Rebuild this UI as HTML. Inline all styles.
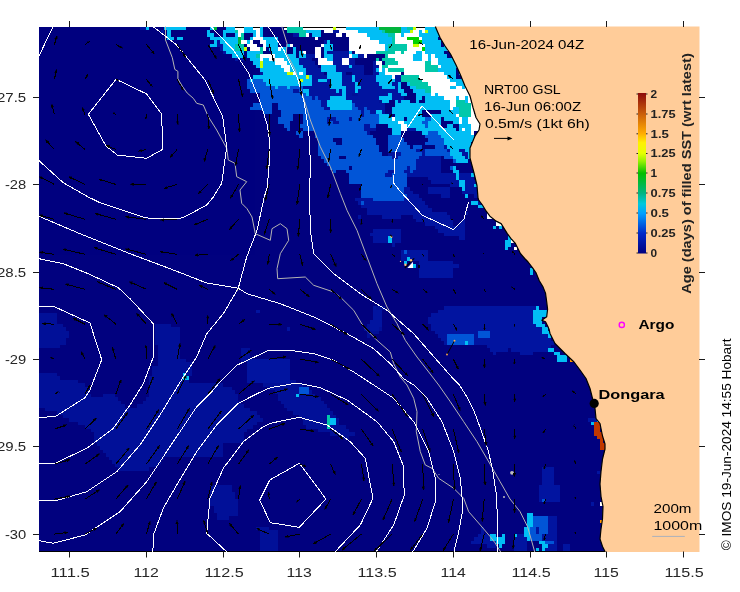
<!DOCTYPE html>
<html><head><meta charset="utf-8"><title>IMOS SST age map</title>
<style>html,body{margin:0;padding:0;background:#fff}body{width:740px;height:592px;overflow:hidden;font-family:"Liberation Sans",sans-serif}svg{display:block;will-change:transform;opacity:.999}text{font-family:"Liberation Sans",sans-serif}</style></head><body>
<svg width="740" height="592" viewBox="0 0 740 592">
<defs><clipPath id="pc"><rect x="39" y="27" width="660" height="524.5"/></clipPath>
<clipPath id="pc2"><rect x="38.5" y="26.5" width="661" height="525.5"/></clipPath>
<linearGradient id="cb" x1="0" y1="1" x2="0" y2="0">
<stop offset="0" stop-color="#00007f"/>
<stop offset="0.125" stop-color="#0028c8"/>
<stop offset="0.25" stop-color="#00a0ff"/>
<stop offset="0.31" stop-color="#00c8dc"/>
<stop offset="0.375" stop-color="#00b482"/>
<stop offset="0.5" stop-color="#00be00"/>
<stop offset="0.575" stop-color="#96f000"/>
<stop offset="0.625" stop-color="#e6ff00"/>
<stop offset="0.69" stop-color="#fff000"/>
<stop offset="0.75" stop-color="#ffaa00"/>
<stop offset="0.875" stop-color="#c85a0a"/>
<stop offset="1" stop-color="#8c0a0a"/>
</linearGradient></defs>
<rect width="740" height="592" fill="#fff"/>
<g clip-path="url(#pc)">
<rect x="39" y="27" width="660" height="524.5" fill="#00007f"/>
<g shape-rendering="crispEdges">
<rect x="139.82" y="26.24" width="6.19" height="3.55" fill="#0014a0"/>
<rect x="145.96" y="26.24" width="3.12" height="3.55" fill="#00bef5"/>
<rect x="164.38" y="26.24" width="21.54" height="3.55" fill="#00bef5"/>
<rect x="210.43" y="26.24" width="3.12" height="3.55" fill="#00bef5"/>
<rect x="213.50" y="26.24" width="3.12" height="3.55" fill="#00b43c"/>
<rect x="225.78" y="26.24" width="9.26" height="3.55" fill="#00bef5"/>
<rect x="234.99" y="26.24" width="9.26" height="3.55" fill="#ffffff"/>
<rect x="244.20" y="26.24" width="9.26" height="3.55" fill="#00bef5"/>
<rect x="253.41" y="26.24" width="6.19" height="3.55" fill="#ffffff"/>
<rect x="259.55" y="26.24" width="3.12" height="3.55" fill="#00bef5"/>
<rect x="284.10" y="26.24" width="3.12" height="3.55" fill="#ffffff"/>
<rect x="287.17" y="26.24" width="15.40" height="3.55" fill="#00c8aa"/>
<rect x="302.52" y="26.24" width="30.75" height="3.55" fill="#ffffff"/>
<rect x="333.22" y="26.24" width="3.12" height="3.55" fill="#c8ff00"/>
<rect x="336.29" y="26.24" width="9.26" height="3.55" fill="#ffffff"/>
<rect x="345.50" y="26.24" width="33.82" height="3.55" fill="#00bef5"/>
<rect x="379.27" y="26.24" width="21.54" height="3.55" fill="#00b43c"/>
<rect x="400.76" y="26.24" width="6.19" height="3.55" fill="#00bef5"/>
<rect x="406.90" y="26.24" width="6.19" height="3.55" fill="#00c8aa"/>
<rect x="413.04" y="26.24" width="3.12" height="3.55" fill="#c8ff00"/>
<rect x="416.11" y="26.24" width="9.26" height="3.55" fill="#ffffff"/>
<rect x="425.31" y="26.24" width="39.96" height="3.55" fill="#00bef5"/>
<rect x="161.31" y="29.74" width="3.12" height="3.55" fill="#0014a0"/>
<rect x="167.45" y="29.74" width="3.12" height="3.55" fill="#00bef5"/>
<rect x="207.36" y="29.74" width="3.12" height="3.55" fill="#00bef5"/>
<rect x="222.71" y="29.74" width="12.33" height="3.55" fill="#00bef5"/>
<rect x="234.99" y="29.74" width="3.12" height="3.55" fill="#00c8aa"/>
<rect x="238.06" y="29.74" width="6.19" height="3.55" fill="#ffffff"/>
<rect x="244.20" y="29.74" width="12.33" height="3.55" fill="#00bef5"/>
<rect x="256.48" y="29.74" width="3.12" height="3.55" fill="#ffffff"/>
<rect x="259.55" y="29.74" width="3.12" height="3.55" fill="#00bef5"/>
<rect x="287.17" y="29.74" width="18.47" height="3.55" fill="#00c8aa"/>
<rect x="305.59" y="29.74" width="15.40" height="3.55" fill="#00bef5"/>
<rect x="324.01" y="29.74" width="9.26" height="3.55" fill="#ffffff"/>
<rect x="333.22" y="29.74" width="6.19" height="3.55" fill="#0014a0"/>
<rect x="339.36" y="29.74" width="18.47" height="3.55" fill="#ffffff"/>
<rect x="357.78" y="29.74" width="24.61" height="3.55" fill="#00bef5"/>
<rect x="382.34" y="29.74" width="3.12" height="3.55" fill="#00c8aa"/>
<rect x="385.41" y="29.74" width="15.40" height="3.55" fill="#00b43c"/>
<rect x="400.76" y="29.74" width="9.26" height="3.55" fill="#00bef5"/>
<rect x="409.97" y="29.74" width="3.12" height="3.55" fill="#c8ff00"/>
<rect x="413.04" y="29.74" width="6.19" height="3.55" fill="#ffffff"/>
<rect x="419.17" y="29.74" width="3.12" height="3.55" fill="#00bef5"/>
<rect x="422.24" y="29.74" width="3.12" height="3.55" fill="#ffffff"/>
<rect x="425.31" y="29.74" width="3.12" height="3.55" fill="#c8ff00"/>
<rect x="428.38" y="29.74" width="36.89" height="3.55" fill="#00bef5"/>
<rect x="167.45" y="33.24" width="3.12" height="3.55" fill="#00bef5"/>
<rect x="207.36" y="33.24" width="6.19" height="3.55" fill="#00bef5"/>
<rect x="222.71" y="33.24" width="3.12" height="3.55" fill="#00bef5"/>
<rect x="234.99" y="33.24" width="3.12" height="3.55" fill="#00bef5"/>
<rect x="238.06" y="33.24" width="3.12" height="3.55" fill="#ffffff"/>
<rect x="241.13" y="33.24" width="3.12" height="3.55" fill="#00c8aa"/>
<rect x="253.41" y="33.24" width="3.12" height="3.55" fill="#00bef5"/>
<rect x="256.48" y="33.24" width="3.12" height="3.55" fill="#ffffff"/>
<rect x="259.55" y="33.24" width="3.12" height="3.55" fill="#00bef5"/>
<rect x="293.31" y="33.24" width="6.19" height="3.55" fill="#0014a0"/>
<rect x="299.45" y="33.24" width="6.19" height="3.55" fill="#00c8aa"/>
<rect x="305.59" y="33.24" width="3.12" height="3.55" fill="#ffffff"/>
<rect x="311.73" y="33.24" width="9.26" height="3.55" fill="#00bef5"/>
<rect x="336.29" y="33.24" width="6.19" height="3.55" fill="#ffffff"/>
<rect x="345.50" y="33.24" width="21.54" height="3.55" fill="#ffffff"/>
<rect x="366.99" y="33.24" width="21.54" height="3.55" fill="#00bef5"/>
<rect x="388.48" y="33.24" width="6.19" height="3.55" fill="#00c8aa"/>
<rect x="394.62" y="33.24" width="6.19" height="3.55" fill="#ffffff"/>
<rect x="400.76" y="33.24" width="3.12" height="3.55" fill="#00bef5"/>
<rect x="403.83" y="33.24" width="15.40" height="3.55" fill="#ffffff"/>
<rect x="419.17" y="33.24" width="46.10" height="3.55" fill="#00bef5"/>
<rect x="167.45" y="36.74" width="6.19" height="3.55" fill="#00bef5"/>
<rect x="176.66" y="36.74" width="6.19" height="3.55" fill="#00bef5"/>
<rect x="210.43" y="36.74" width="27.68" height="3.55" fill="#00bef5"/>
<rect x="238.06" y="36.74" width="3.12" height="3.55" fill="#00b43c"/>
<rect x="241.13" y="36.74" width="3.12" height="3.55" fill="#00c8aa"/>
<rect x="250.34" y="36.74" width="3.12" height="3.55" fill="#00bef5"/>
<rect x="253.41" y="36.74" width="9.26" height="3.55" fill="#ffffff"/>
<rect x="262.62" y="36.74" width="15.40" height="3.55" fill="#00bef5"/>
<rect x="314.80" y="36.74" width="3.12" height="3.55" fill="#ffffff"/>
<rect x="348.57" y="36.74" width="21.54" height="3.55" fill="#ffffff"/>
<rect x="370.06" y="36.74" width="21.54" height="3.55" fill="#00bef5"/>
<rect x="391.55" y="36.74" width="3.12" height="3.55" fill="#00c8aa"/>
<rect x="394.62" y="36.74" width="12.33" height="3.55" fill="#ffffff"/>
<rect x="406.90" y="36.74" width="12.33" height="3.55" fill="#00d200"/>
<rect x="419.17" y="36.74" width="3.12" height="3.55" fill="#ffffff"/>
<rect x="422.24" y="36.74" width="15.40" height="3.55" fill="#00bef5"/>
<rect x="440.66" y="36.74" width="24.61" height="3.55" fill="#00bef5"/>
<rect x="213.50" y="40.24" width="3.12" height="3.55" fill="#00bef5"/>
<rect x="216.57" y="40.24" width="3.12" height="3.55" fill="#0014a0"/>
<rect x="219.64" y="40.24" width="18.47" height="3.55" fill="#00bef5"/>
<rect x="238.06" y="40.24" width="3.12" height="3.55" fill="#00b43c"/>
<rect x="241.13" y="40.24" width="6.19" height="3.55" fill="#ffffff"/>
<rect x="247.27" y="40.24" width="3.12" height="3.55" fill="#00bef5"/>
<rect x="250.34" y="40.24" width="3.12" height="3.55" fill="#ffffff"/>
<rect x="259.55" y="40.24" width="6.19" height="3.55" fill="#ffffff"/>
<rect x="265.68" y="40.24" width="12.33" height="3.55" fill="#00bef5"/>
<rect x="324.01" y="40.24" width="3.12" height="3.55" fill="#0014a0"/>
<rect x="327.08" y="40.24" width="3.12" height="3.55" fill="#00bef5"/>
<rect x="348.57" y="40.24" width="30.75" height="3.55" fill="#ffffff"/>
<rect x="379.27" y="40.24" width="12.33" height="3.55" fill="#00bef5"/>
<rect x="391.55" y="40.24" width="3.12" height="3.55" fill="#00c8aa"/>
<rect x="394.62" y="40.24" width="18.47" height="3.55" fill="#ffffff"/>
<rect x="413.04" y="40.24" width="9.26" height="3.55" fill="#00d200"/>
<rect x="422.24" y="40.24" width="18.47" height="3.55" fill="#00bef5"/>
<rect x="443.73" y="40.24" width="21.54" height="3.55" fill="#00bef5"/>
<rect x="210.43" y="43.74" width="6.19" height="3.55" fill="#00bef5"/>
<rect x="216.57" y="43.74" width="6.19" height="3.55" fill="#0014a0"/>
<rect x="222.71" y="43.74" width="12.33" height="3.55" fill="#00bef5"/>
<rect x="234.99" y="43.74" width="9.26" height="3.55" fill="#00c8aa"/>
<rect x="247.27" y="43.74" width="9.26" height="3.55" fill="#ffffff"/>
<rect x="262.62" y="43.74" width="3.12" height="3.55" fill="#ffffff"/>
<rect x="265.68" y="43.74" width="12.33" height="3.55" fill="#00bef5"/>
<rect x="287.17" y="43.74" width="3.12" height="3.55" fill="#00bef5"/>
<rect x="290.24" y="43.74" width="3.12" height="3.55" fill="#ffffff"/>
<rect x="320.94" y="43.74" width="3.12" height="3.55" fill="#ffffff"/>
<rect x="324.01" y="43.74" width="9.26" height="3.55" fill="#00bef5"/>
<rect x="348.57" y="43.74" width="36.89" height="3.55" fill="#ffffff"/>
<rect x="385.41" y="43.74" width="3.12" height="3.55" fill="#00bef5"/>
<rect x="388.48" y="43.74" width="18.47" height="3.55" fill="#00c8aa"/>
<rect x="406.90" y="43.74" width="6.19" height="3.55" fill="#ffffff"/>
<rect x="413.04" y="43.74" width="6.19" height="3.55" fill="#c8ff00"/>
<rect x="419.17" y="43.74" width="6.19" height="3.55" fill="#ffffff"/>
<rect x="425.31" y="43.74" width="15.40" height="3.55" fill="#00bef5"/>
<rect x="443.73" y="43.74" width="21.54" height="3.55" fill="#00bef5"/>
<rect x="219.64" y="47.24" width="3.12" height="3.55" fill="#0014a0"/>
<rect x="222.71" y="47.24" width="12.33" height="3.55" fill="#00bef5"/>
<rect x="234.99" y="47.24" width="9.26" height="3.55" fill="#00c8aa"/>
<rect x="244.20" y="47.24" width="3.12" height="3.55" fill="#c8ff00"/>
<rect x="250.34" y="47.24" width="9.26" height="3.55" fill="#ffffff"/>
<rect x="259.55" y="47.24" width="3.12" height="3.55" fill="#00c8aa"/>
<rect x="262.62" y="47.24" width="3.12" height="3.55" fill="#ffffff"/>
<rect x="268.75" y="47.24" width="9.26" height="3.55" fill="#00bef5"/>
<rect x="277.96" y="47.24" width="3.12" height="3.55" fill="#ffffff"/>
<rect x="281.03" y="47.24" width="6.19" height="3.55" fill="#00bef5"/>
<rect x="293.31" y="47.24" width="3.12" height="3.55" fill="#00bef5"/>
<rect x="314.80" y="47.24" width="6.19" height="3.55" fill="#ffffff"/>
<rect x="324.01" y="47.24" width="9.26" height="3.55" fill="#00bef5"/>
<rect x="348.57" y="47.24" width="36.89" height="3.55" fill="#ffffff"/>
<rect x="385.41" y="47.24" width="3.12" height="3.55" fill="#00bef5"/>
<rect x="388.48" y="47.24" width="18.47" height="3.55" fill="#00c8aa"/>
<rect x="406.90" y="47.24" width="15.40" height="3.55" fill="#ffffff"/>
<rect x="422.24" y="47.24" width="3.12" height="3.55" fill="#00d200"/>
<rect x="425.31" y="47.24" width="21.54" height="3.55" fill="#00bef5"/>
<rect x="446.80" y="47.24" width="3.12" height="3.55" fill="#ffffff"/>
<rect x="449.87" y="47.24" width="15.40" height="3.55" fill="#00bef5"/>
<rect x="222.71" y="50.74" width="3.12" height="3.55" fill="#0014a0"/>
<rect x="225.78" y="50.74" width="18.47" height="3.55" fill="#00bef5"/>
<rect x="247.27" y="50.74" width="12.33" height="3.55" fill="#00bef5"/>
<rect x="259.55" y="50.74" width="3.12" height="3.55" fill="#00c8aa"/>
<rect x="271.82" y="50.74" width="15.40" height="3.55" fill="#00bef5"/>
<rect x="293.31" y="50.74" width="3.12" height="3.55" fill="#00bef5"/>
<rect x="299.45" y="50.74" width="3.12" height="3.55" fill="#00bef5"/>
<rect x="302.52" y="50.74" width="3.12" height="3.55" fill="#ffffff"/>
<rect x="314.80" y="50.74" width="6.19" height="3.55" fill="#ffffff"/>
<rect x="324.01" y="50.74" width="3.12" height="3.55" fill="#00bef5"/>
<rect x="327.08" y="50.74" width="21.54" height="3.55" fill="#0014a0"/>
<rect x="348.57" y="50.74" width="3.12" height="3.55" fill="#00bef5"/>
<rect x="354.71" y="50.74" width="21.54" height="3.55" fill="#ffffff"/>
<rect x="376.20" y="50.74" width="18.47" height="3.55" fill="#00c8aa"/>
<rect x="394.62" y="50.74" width="6.19" height="3.55" fill="#ffffff"/>
<rect x="400.76" y="50.74" width="3.12" height="3.55" fill="#00c8aa"/>
<rect x="403.83" y="50.74" width="12.33" height="3.55" fill="#ffffff"/>
<rect x="416.11" y="50.74" width="6.19" height="3.55" fill="#00bef5"/>
<rect x="422.24" y="50.74" width="3.12" height="3.55" fill="#ffffff"/>
<rect x="425.31" y="50.74" width="18.47" height="3.55" fill="#00bef5"/>
<rect x="449.87" y="50.74" width="15.40" height="3.55" fill="#00bef5"/>
<rect x="231.92" y="54.24" width="12.33" height="3.55" fill="#00bef5"/>
<rect x="247.27" y="54.24" width="9.26" height="3.55" fill="#00bef5"/>
<rect x="256.48" y="54.24" width="3.12" height="3.55" fill="#00c8aa"/>
<rect x="259.55" y="54.24" width="15.40" height="3.55" fill="#ffffff"/>
<rect x="274.89" y="54.24" width="21.54" height="3.55" fill="#00bef5"/>
<rect x="299.45" y="54.24" width="6.19" height="3.55" fill="#00bef5"/>
<rect x="305.59" y="54.24" width="9.26" height="3.55" fill="#0014a0"/>
<rect x="314.80" y="54.24" width="6.19" height="3.55" fill="#ffffff"/>
<rect x="324.01" y="54.24" width="9.26" height="3.55" fill="#00bef5"/>
<rect x="333.22" y="54.24" width="15.40" height="3.55" fill="#0014a0"/>
<rect x="348.57" y="54.24" width="3.12" height="3.55" fill="#ffffff"/>
<rect x="351.64" y="54.24" width="6.19" height="3.55" fill="#00bef5"/>
<rect x="357.78" y="54.24" width="6.19" height="3.55" fill="#0014a0"/>
<rect x="363.92" y="54.24" width="3.12" height="3.55" fill="#ffffff"/>
<rect x="385.41" y="54.24" width="3.12" height="3.55" fill="#00c8aa"/>
<rect x="388.48" y="54.24" width="24.61" height="3.55" fill="#ffffff"/>
<rect x="413.04" y="54.24" width="9.26" height="3.55" fill="#00bef5"/>
<rect x="422.24" y="54.24" width="6.19" height="3.55" fill="#ffffff"/>
<rect x="428.38" y="54.24" width="3.12" height="3.55" fill="#00bef5"/>
<rect x="431.45" y="54.24" width="3.12" height="3.55" fill="#ffffff"/>
<rect x="434.52" y="54.24" width="12.33" height="3.55" fill="#00bef5"/>
<rect x="452.94" y="54.24" width="12.33" height="3.55" fill="#00bef5"/>
<rect x="234.99" y="57.74" width="3.12" height="3.55" fill="#0014a0"/>
<rect x="241.13" y="57.74" width="3.12" height="3.55" fill="#0014a0"/>
<rect x="250.34" y="57.74" width="9.26" height="3.55" fill="#00bef5"/>
<rect x="259.55" y="57.74" width="3.12" height="3.55" fill="#ffffff"/>
<rect x="262.62" y="57.74" width="6.19" height="3.55" fill="#00bef5"/>
<rect x="268.75" y="57.74" width="15.40" height="3.55" fill="#ffffff"/>
<rect x="284.10" y="57.74" width="15.40" height="3.55" fill="#00bef5"/>
<rect x="299.45" y="57.74" width="12.33" height="3.55" fill="#0014a0"/>
<rect x="317.87" y="57.74" width="9.26" height="3.55" fill="#ffffff"/>
<rect x="327.08" y="57.74" width="6.19" height="3.55" fill="#00bef5"/>
<rect x="333.22" y="57.74" width="9.26" height="3.55" fill="#0014a0"/>
<rect x="342.43" y="57.74" width="6.19" height="3.55" fill="#ffffff"/>
<rect x="348.57" y="57.74" width="6.19" height="3.55" fill="#0014a0"/>
<rect x="376.20" y="57.74" width="3.12" height="3.55" fill="#00c8aa"/>
<rect x="382.34" y="57.74" width="12.33" height="3.55" fill="#00c8aa"/>
<rect x="394.62" y="57.74" width="18.47" height="3.55" fill="#ffffff"/>
<rect x="413.04" y="57.74" width="9.26" height="3.55" fill="#00bef5"/>
<rect x="422.24" y="57.74" width="6.19" height="3.55" fill="#ffffff"/>
<rect x="428.38" y="57.74" width="3.12" height="3.55" fill="#00bef5"/>
<rect x="431.45" y="57.74" width="6.19" height="3.55" fill="#ffffff"/>
<rect x="437.59" y="57.74" width="27.68" height="3.55" fill="#00bef5"/>
<rect x="253.41" y="61.24" width="6.19" height="3.55" fill="#00bef5"/>
<rect x="259.55" y="61.24" width="3.12" height="3.55" fill="#c8ff00"/>
<rect x="262.62" y="61.24" width="12.33" height="3.55" fill="#00bef5"/>
<rect x="274.89" y="61.24" width="12.33" height="3.55" fill="#ffffff"/>
<rect x="287.17" y="61.24" width="12.33" height="3.55" fill="#00bef5"/>
<rect x="299.45" y="61.24" width="15.40" height="3.55" fill="#0014a0"/>
<rect x="317.87" y="61.24" width="15.40" height="3.55" fill="#ffffff"/>
<rect x="333.22" y="61.24" width="9.26" height="3.55" fill="#0014a0"/>
<rect x="342.43" y="61.24" width="6.19" height="3.55" fill="#ffffff"/>
<rect x="348.57" y="61.24" width="6.19" height="3.55" fill="#0014a0"/>
<rect x="373.13" y="61.24" width="3.12" height="3.55" fill="#0014a0"/>
<rect x="376.20" y="61.24" width="6.19" height="3.55" fill="#ffffff"/>
<rect x="385.41" y="61.24" width="12.33" height="3.55" fill="#00c8aa"/>
<rect x="397.69" y="61.24" width="27.68" height="3.55" fill="#ffffff"/>
<rect x="425.31" y="61.24" width="6.19" height="3.55" fill="#00c8aa"/>
<rect x="431.45" y="61.24" width="6.19" height="3.55" fill="#ffffff"/>
<rect x="437.59" y="61.24" width="27.68" height="3.55" fill="#00bef5"/>
<rect x="256.48" y="64.74" width="3.12" height="3.55" fill="#00bef5"/>
<rect x="259.55" y="64.74" width="3.12" height="3.55" fill="#c8ff00"/>
<rect x="262.62" y="64.74" width="18.47" height="3.55" fill="#00bef5"/>
<rect x="281.03" y="64.74" width="9.26" height="3.55" fill="#ffffff"/>
<rect x="290.24" y="64.74" width="12.33" height="3.55" fill="#00bef5"/>
<rect x="302.52" y="64.74" width="15.40" height="3.55" fill="#0014a0"/>
<rect x="320.94" y="64.74" width="15.40" height="3.55" fill="#00bef5"/>
<rect x="336.29" y="64.74" width="12.33" height="3.55" fill="#0014a0"/>
<rect x="348.57" y="64.74" width="3.12" height="3.55" fill="#00bef5"/>
<rect x="351.64" y="64.74" width="12.33" height="3.55" fill="#0014a0"/>
<rect x="373.13" y="64.74" width="6.19" height="3.55" fill="#0014a0"/>
<rect x="379.27" y="64.74" width="3.12" height="3.55" fill="#ffffff"/>
<rect x="382.34" y="64.74" width="6.19" height="3.55" fill="#00c8aa"/>
<rect x="388.48" y="64.74" width="36.89" height="3.55" fill="#ffffff"/>
<rect x="425.31" y="64.74" width="12.33" height="3.55" fill="#00c8aa"/>
<rect x="437.59" y="64.74" width="3.12" height="3.55" fill="#ffffff"/>
<rect x="440.66" y="64.74" width="24.61" height="3.55" fill="#00bef5"/>
<rect x="259.55" y="68.24" width="24.61" height="3.55" fill="#00bef5"/>
<rect x="284.10" y="68.24" width="6.19" height="3.55" fill="#ffffff"/>
<rect x="290.24" y="68.24" width="15.40" height="3.55" fill="#00bef5"/>
<rect x="305.59" y="68.24" width="15.40" height="3.55" fill="#0014a0"/>
<rect x="320.94" y="68.24" width="15.40" height="3.55" fill="#00bef5"/>
<rect x="336.29" y="68.24" width="27.68" height="3.55" fill="#0014a0"/>
<rect x="373.13" y="68.24" width="3.12" height="3.55" fill="#0014a0"/>
<rect x="376.20" y="68.24" width="3.12" height="3.55" fill="#00bef5"/>
<rect x="379.27" y="68.24" width="3.12" height="3.55" fill="#ffffff"/>
<rect x="382.34" y="68.24" width="3.12" height="3.55" fill="#00bef5"/>
<rect x="385.41" y="68.24" width="3.12" height="3.55" fill="#ffffff"/>
<rect x="388.48" y="68.24" width="15.40" height="3.55" fill="#00c8aa"/>
<rect x="403.83" y="68.24" width="21.54" height="3.55" fill="#ffffff"/>
<rect x="425.31" y="68.24" width="12.33" height="3.55" fill="#00c8aa"/>
<rect x="437.59" y="68.24" width="18.47" height="3.55" fill="#00bef5"/>
<rect x="459.08" y="68.24" width="6.19" height="3.55" fill="#00bef5"/>
<rect x="259.55" y="71.74" width="3.12" height="3.55" fill="#0014a0"/>
<rect x="262.62" y="71.74" width="24.61" height="3.55" fill="#00bef5"/>
<rect x="287.17" y="71.74" width="6.19" height="3.55" fill="#c8ff00"/>
<rect x="293.31" y="71.74" width="3.12" height="3.55" fill="#ffffff"/>
<rect x="296.38" y="71.74" width="3.12" height="3.55" fill="#00bef5"/>
<rect x="299.45" y="71.74" width="3.12" height="3.55" fill="#ffffff"/>
<rect x="302.52" y="71.74" width="3.12" height="3.55" fill="#00bef5"/>
<rect x="305.59" y="71.74" width="18.47" height="3.55" fill="#0014a0"/>
<rect x="327.08" y="71.74" width="15.40" height="3.55" fill="#00bef5"/>
<rect x="342.43" y="71.74" width="3.12" height="3.55" fill="#0014a0"/>
<rect x="351.64" y="71.74" width="12.33" height="3.55" fill="#0014a0"/>
<rect x="373.13" y="71.74" width="6.19" height="3.55" fill="#0014a0"/>
<rect x="379.27" y="71.74" width="6.19" height="3.55" fill="#00bef5"/>
<rect x="385.41" y="71.74" width="15.40" height="3.55" fill="#ffffff"/>
<rect x="403.83" y="71.74" width="39.96" height="3.55" fill="#ffffff"/>
<rect x="443.73" y="71.74" width="12.33" height="3.55" fill="#00bef5"/>
<rect x="459.08" y="71.74" width="6.19" height="3.55" fill="#00bef5"/>
<rect x="253.41" y="75.24" width="52.24" height="3.55" fill="#00bef5"/>
<rect x="305.59" y="75.24" width="3.12" height="3.55" fill="#c8ff00"/>
<rect x="308.66" y="75.24" width="3.12" height="3.55" fill="#00bef5"/>
<rect x="311.73" y="75.24" width="15.40" height="3.55" fill="#0014a0"/>
<rect x="327.08" y="75.24" width="15.40" height="3.55" fill="#00bef5"/>
<rect x="342.43" y="75.24" width="9.26" height="3.55" fill="#0014a0"/>
<rect x="351.64" y="75.24" width="3.12" height="3.55" fill="#00bef5"/>
<rect x="354.71" y="75.24" width="21.54" height="3.55" fill="#0014a0"/>
<rect x="376.20" y="75.24" width="15.40" height="3.55" fill="#00bef5"/>
<rect x="391.55" y="75.24" width="3.12" height="3.55" fill="#ffffff"/>
<rect x="394.62" y="75.24" width="6.19" height="3.55" fill="#0014a0"/>
<rect x="400.76" y="75.24" width="18.47" height="3.55" fill="#00c8aa"/>
<rect x="419.17" y="75.24" width="27.68" height="3.55" fill="#ffffff"/>
<rect x="446.80" y="75.24" width="9.26" height="3.55" fill="#00bef5"/>
<rect x="247.27" y="78.74" width="3.12" height="3.55" fill="#0055d7"/>
<rect x="250.34" y="78.74" width="3.12" height="3.55" fill="#00bef5"/>
<rect x="253.41" y="78.74" width="9.26" height="3.55" fill="#0055d7"/>
<rect x="262.62" y="78.74" width="36.89" height="3.55" fill="#00bef5"/>
<rect x="299.45" y="78.74" width="3.12" height="3.55" fill="#c8ff00"/>
<rect x="302.52" y="78.74" width="9.26" height="3.55" fill="#00bef5"/>
<rect x="311.73" y="78.74" width="6.19" height="3.55" fill="#0014a0"/>
<rect x="317.87" y="78.74" width="9.26" height="3.55" fill="#00bef5"/>
<rect x="327.08" y="78.74" width="3.12" height="3.55" fill="#0014a0"/>
<rect x="330.15" y="78.74" width="12.33" height="3.55" fill="#00bef5"/>
<rect x="342.43" y="78.74" width="9.26" height="3.55" fill="#0014a0"/>
<rect x="351.64" y="78.74" width="3.12" height="3.55" fill="#00bef5"/>
<rect x="354.71" y="78.74" width="21.54" height="3.55" fill="#0014a0"/>
<rect x="376.20" y="78.74" width="18.47" height="3.55" fill="#00bef5"/>
<rect x="394.62" y="78.74" width="6.19" height="3.55" fill="#0014a0"/>
<rect x="400.76" y="78.74" width="21.54" height="3.55" fill="#00c8aa"/>
<rect x="422.24" y="78.74" width="27.68" height="3.55" fill="#ffffff"/>
<rect x="449.87" y="78.74" width="15.40" height="3.55" fill="#00bef5"/>
<rect x="247.27" y="82.24" width="18.47" height="3.55" fill="#0055d7"/>
<rect x="265.68" y="82.24" width="46.10" height="3.55" fill="#00bef5"/>
<rect x="311.73" y="82.24" width="18.47" height="3.55" fill="#0014a0"/>
<rect x="330.15" y="82.24" width="12.33" height="3.55" fill="#00bef5"/>
<rect x="342.43" y="82.24" width="12.33" height="3.55" fill="#0014a0"/>
<rect x="354.71" y="82.24" width="3.12" height="3.55" fill="#00bef5"/>
<rect x="357.78" y="82.24" width="21.54" height="3.55" fill="#0014a0"/>
<rect x="379.27" y="82.24" width="12.33" height="3.55" fill="#00bef5"/>
<rect x="391.55" y="82.24" width="6.19" height="3.55" fill="#0014a0"/>
<rect x="397.69" y="82.24" width="3.12" height="3.55" fill="#00bef5"/>
<rect x="406.90" y="82.24" width="3.12" height="3.55" fill="#00bef5"/>
<rect x="409.97" y="82.24" width="18.47" height="3.55" fill="#00c8aa"/>
<rect x="428.38" y="82.24" width="27.68" height="3.55" fill="#ffffff"/>
<rect x="456.01" y="82.24" width="9.26" height="3.55" fill="#00bef5"/>
<rect x="247.27" y="85.74" width="27.68" height="3.55" fill="#0055d7"/>
<rect x="274.89" y="85.74" width="3.12" height="3.55" fill="#00bef5"/>
<rect x="277.96" y="85.74" width="9.26" height="3.55" fill="#0055d7"/>
<rect x="287.17" y="85.74" width="3.12" height="3.55" fill="#00bef5"/>
<rect x="290.24" y="85.74" width="12.33" height="3.55" fill="#0055d7"/>
<rect x="302.52" y="85.74" width="27.68" height="3.55" fill="#0014a0"/>
<rect x="330.15" y="85.74" width="15.40" height="3.55" fill="#00bef5"/>
<rect x="345.50" y="85.74" width="9.26" height="3.55" fill="#0014a0"/>
<rect x="354.71" y="85.74" width="6.19" height="3.55" fill="#00bef5"/>
<rect x="360.85" y="85.74" width="21.54" height="3.55" fill="#0014a0"/>
<rect x="382.34" y="85.74" width="12.33" height="3.55" fill="#00bef5"/>
<rect x="394.62" y="85.74" width="3.12" height="3.55" fill="#0014a0"/>
<rect x="397.69" y="85.74" width="3.12" height="3.55" fill="#00bef5"/>
<rect x="409.97" y="85.74" width="6.19" height="3.55" fill="#00bef5"/>
<rect x="416.11" y="85.74" width="15.40" height="3.55" fill="#00c8aa"/>
<rect x="431.45" y="85.74" width="18.47" height="3.55" fill="#ffffff"/>
<rect x="449.87" y="85.74" width="6.19" height="3.55" fill="#00bef5"/>
<rect x="456.01" y="85.74" width="6.19" height="3.55" fill="#ffffff"/>
<rect x="462.15" y="85.74" width="3.12" height="3.55" fill="#00bef5"/>
<rect x="465.22" y="85.74" width="3.12" height="3.55" fill="#ffffff"/>
<rect x="250.34" y="89.24" width="43.03" height="3.55" fill="#0055d7"/>
<rect x="293.31" y="89.24" width="6.19" height="3.55" fill="#0014a0"/>
<rect x="299.45" y="89.24" width="3.12" height="3.55" fill="#0055d7"/>
<rect x="302.52" y="89.24" width="6.19" height="3.55" fill="#00bef5"/>
<rect x="308.66" y="89.24" width="27.68" height="3.55" fill="#0014a0"/>
<rect x="336.29" y="89.24" width="3.12" height="3.55" fill="#00bef5"/>
<rect x="339.36" y="89.24" width="3.12" height="3.55" fill="#0014a0"/>
<rect x="342.43" y="89.24" width="3.12" height="3.55" fill="#00bef5"/>
<rect x="345.50" y="89.24" width="9.26" height="3.55" fill="#0014a0"/>
<rect x="354.71" y="89.24" width="3.12" height="3.55" fill="#00bef5"/>
<rect x="357.78" y="89.24" width="39.96" height="3.55" fill="#0014a0"/>
<rect x="397.69" y="89.24" width="6.19" height="3.55" fill="#00bef5"/>
<rect x="413.04" y="89.24" width="12.33" height="3.55" fill="#00bef5"/>
<rect x="425.31" y="89.24" width="6.19" height="3.55" fill="#00c8aa"/>
<rect x="431.45" y="89.24" width="36.89" height="3.55" fill="#ffffff"/>
<rect x="259.55" y="92.74" width="46.10" height="3.55" fill="#0055d7"/>
<rect x="305.59" y="92.74" width="3.12" height="3.55" fill="#00bef5"/>
<rect x="308.66" y="92.74" width="33.82" height="3.55" fill="#0014a0"/>
<rect x="342.43" y="92.74" width="3.12" height="3.55" fill="#00bef5"/>
<rect x="345.50" y="92.74" width="6.19" height="3.55" fill="#0014a0"/>
<rect x="351.64" y="92.74" width="6.19" height="3.55" fill="#001098"/>
<rect x="357.78" y="92.74" width="30.75" height="3.55" fill="#0014a0"/>
<rect x="388.48" y="92.74" width="3.12" height="3.55" fill="#00bef5"/>
<rect x="391.55" y="92.74" width="9.26" height="3.55" fill="#0014a0"/>
<rect x="400.76" y="92.74" width="6.19" height="3.55" fill="#00bef5"/>
<rect x="416.11" y="92.74" width="15.40" height="3.55" fill="#00bef5"/>
<rect x="431.45" y="92.74" width="3.12" height="3.55" fill="#ffffff"/>
<rect x="434.52" y="92.74" width="3.12" height="3.55" fill="#00bef5"/>
<rect x="437.59" y="92.74" width="33.82" height="3.55" fill="#ffffff"/>
<rect x="259.55" y="96.24" width="52.24" height="3.55" fill="#0055d7"/>
<rect x="311.73" y="96.24" width="3.12" height="3.55" fill="#0014a0"/>
<rect x="314.80" y="96.24" width="3.12" height="3.55" fill="#0055d7"/>
<rect x="317.87" y="96.24" width="12.33" height="3.55" fill="#0014a0"/>
<rect x="330.15" y="96.24" width="15.40" height="3.55" fill="#00bef5"/>
<rect x="345.50" y="96.24" width="33.82" height="3.55" fill="#0014a0"/>
<rect x="379.27" y="96.24" width="12.33" height="3.55" fill="#00bef5"/>
<rect x="391.55" y="96.24" width="12.33" height="3.55" fill="#0014a0"/>
<rect x="416.11" y="96.24" width="6.19" height="3.55" fill="#00bef5"/>
<rect x="425.31" y="96.24" width="18.47" height="3.55" fill="#00bef5"/>
<rect x="443.73" y="96.24" width="12.33" height="3.55" fill="#ffffff"/>
<rect x="456.01" y="96.24" width="3.12" height="3.55" fill="#00bef5"/>
<rect x="459.08" y="96.24" width="6.19" height="3.55" fill="#ffffff"/>
<rect x="465.22" y="96.24" width="3.12" height="3.55" fill="#00bef5"/>
<rect x="468.29" y="96.24" width="3.12" height="3.55" fill="#ffffff"/>
<rect x="259.55" y="99.74" width="61.45" height="3.55" fill="#0055d7"/>
<rect x="320.94" y="99.74" width="6.19" height="3.55" fill="#0014a0"/>
<rect x="327.08" y="99.74" width="24.61" height="3.55" fill="#00bef5"/>
<rect x="351.64" y="99.74" width="27.68" height="3.55" fill="#0014a0"/>
<rect x="379.27" y="99.74" width="3.12" height="3.55" fill="#001098"/>
<rect x="382.34" y="99.74" width="6.19" height="3.55" fill="#00bef5"/>
<rect x="394.62" y="99.74" width="3.12" height="3.55" fill="#00bef5"/>
<rect x="397.69" y="99.74" width="3.12" height="3.55" fill="#0014a0"/>
<rect x="400.76" y="99.74" width="9.26" height="3.55" fill="#00bef5"/>
<rect x="416.11" y="99.74" width="3.12" height="3.55" fill="#00bef5"/>
<rect x="425.31" y="99.74" width="24.61" height="3.55" fill="#00bef5"/>
<rect x="449.87" y="99.74" width="6.19" height="3.55" fill="#ffffff"/>
<rect x="456.01" y="99.74" width="9.26" height="3.55" fill="#00c8aa"/>
<rect x="465.22" y="99.74" width="3.12" height="3.55" fill="#00bef5"/>
<rect x="468.29" y="99.74" width="3.12" height="3.55" fill="#ffffff"/>
<rect x="253.41" y="103.24" width="18.47" height="3.55" fill="#0055d7"/>
<rect x="277.96" y="103.24" width="43.03" height="3.55" fill="#0055d7"/>
<rect x="320.94" y="103.24" width="6.19" height="3.55" fill="#0014a0"/>
<rect x="327.08" y="103.24" width="24.61" height="3.55" fill="#00bef5"/>
<rect x="351.64" y="103.24" width="3.12" height="3.55" fill="#0055d7"/>
<rect x="354.71" y="103.24" width="30.75" height="3.55" fill="#0014a0"/>
<rect x="394.62" y="103.24" width="55.31" height="3.55" fill="#00bef5"/>
<rect x="449.87" y="103.24" width="6.19" height="3.55" fill="#ffffff"/>
<rect x="456.01" y="103.24" width="15.40" height="3.55" fill="#00c8aa"/>
<rect x="471.36" y="103.24" width="3.12" height="3.55" fill="#ffffff"/>
<rect x="250.34" y="106.74" width="21.54" height="3.55" fill="#0055d7"/>
<rect x="277.96" y="106.74" width="46.10" height="3.55" fill="#0055d7"/>
<rect x="324.01" y="106.74" width="6.19" height="3.55" fill="#0014a0"/>
<rect x="330.15" y="106.74" width="21.54" height="3.55" fill="#00bef5"/>
<rect x="351.64" y="106.74" width="6.19" height="3.55" fill="#0055d7"/>
<rect x="357.78" y="106.74" width="6.19" height="3.55" fill="#0014a0"/>
<rect x="363.92" y="106.74" width="3.12" height="3.55" fill="#0055d7"/>
<rect x="366.99" y="106.74" width="18.47" height="3.55" fill="#0014a0"/>
<rect x="391.55" y="106.74" width="58.38" height="3.55" fill="#00bef5"/>
<rect x="449.87" y="106.74" width="3.12" height="3.55" fill="#ffffff"/>
<rect x="452.94" y="106.74" width="6.19" height="3.55" fill="#00bef5"/>
<rect x="459.08" y="106.74" width="12.33" height="3.55" fill="#00c8aa"/>
<rect x="471.36" y="106.74" width="3.12" height="3.55" fill="#ffffff"/>
<rect x="262.62" y="110.24" width="9.26" height="3.55" fill="#0055d7"/>
<rect x="281.03" y="110.24" width="79.86" height="3.55" fill="#0055d7"/>
<rect x="360.85" y="110.24" width="3.12" height="3.55" fill="#0014a0"/>
<rect x="363.92" y="110.24" width="6.19" height="3.55" fill="#0055d7"/>
<rect x="370.06" y="110.24" width="6.19" height="3.55" fill="#0014a0"/>
<rect x="376.20" y="110.24" width="6.19" height="3.55" fill="#00bef5"/>
<rect x="382.34" y="110.24" width="3.12" height="3.55" fill="#0014a0"/>
<rect x="391.55" y="110.24" width="30.75" height="3.55" fill="#00bef5"/>
<rect x="440.66" y="110.24" width="18.47" height="3.55" fill="#00bef5"/>
<rect x="459.08" y="110.24" width="12.33" height="3.55" fill="#00c8aa"/>
<rect x="471.36" y="110.24" width="3.12" height="3.55" fill="#ffffff"/>
<rect x="281.03" y="113.74" width="12.33" height="3.55" fill="#0055d7"/>
<rect x="302.52" y="113.74" width="58.38" height="3.55" fill="#0055d7"/>
<rect x="360.85" y="113.74" width="3.12" height="3.55" fill="#0014a0"/>
<rect x="363.92" y="113.74" width="15.40" height="3.55" fill="#0055d7"/>
<rect x="379.27" y="113.74" width="9.26" height="3.55" fill="#00bef5"/>
<rect x="394.62" y="113.74" width="27.68" height="3.55" fill="#00bef5"/>
<rect x="431.45" y="113.74" width="24.61" height="3.55" fill="#00bef5"/>
<rect x="456.01" y="113.74" width="3.12" height="3.55" fill="#ffffff"/>
<rect x="459.08" y="113.74" width="12.33" height="3.55" fill="#00c8aa"/>
<rect x="471.36" y="113.74" width="9.26" height="3.55" fill="#ffffff"/>
<rect x="277.96" y="117.24" width="15.40" height="3.55" fill="#0055d7"/>
<rect x="302.52" y="117.24" width="24.61" height="3.55" fill="#0055d7"/>
<rect x="327.08" y="117.24" width="9.26" height="3.55" fill="#0014a0"/>
<rect x="336.29" y="117.24" width="12.33" height="3.55" fill="#0055d7"/>
<rect x="348.57" y="117.24" width="3.12" height="3.55" fill="#0014a0"/>
<rect x="351.64" y="117.24" width="27.68" height="3.55" fill="#0055d7"/>
<rect x="379.27" y="117.24" width="12.33" height="3.55" fill="#00bef5"/>
<rect x="391.55" y="117.24" width="3.12" height="3.55" fill="#ffffff"/>
<rect x="394.62" y="117.24" width="9.26" height="3.55" fill="#00bef5"/>
<rect x="406.90" y="117.24" width="18.47" height="3.55" fill="#00bef5"/>
<rect x="425.31" y="117.24" width="6.19" height="3.55" fill="#0055d7"/>
<rect x="431.45" y="117.24" width="9.26" height="3.55" fill="#00bef5"/>
<rect x="443.73" y="117.24" width="15.40" height="3.55" fill="#00bef5"/>
<rect x="459.08" y="117.24" width="3.12" height="3.55" fill="#ffffff"/>
<rect x="462.15" y="117.24" width="6.19" height="3.55" fill="#00bef5"/>
<rect x="468.29" y="117.24" width="12.33" height="3.55" fill="#ffffff"/>
<rect x="277.96" y="120.74" width="12.33" height="3.55" fill="#0055d7"/>
<rect x="302.52" y="120.74" width="24.61" height="3.55" fill="#0055d7"/>
<rect x="327.08" y="120.74" width="3.12" height="3.55" fill="#0014a0"/>
<rect x="330.15" y="120.74" width="3.12" height="3.55" fill="#0055d7"/>
<rect x="333.22" y="120.74" width="6.19" height="3.55" fill="#0014a0"/>
<rect x="339.36" y="120.74" width="39.96" height="3.55" fill="#0055d7"/>
<rect x="379.27" y="120.74" width="18.47" height="3.55" fill="#00bef5"/>
<rect x="397.69" y="120.74" width="6.19" height="3.55" fill="#ffffff"/>
<rect x="403.83" y="120.74" width="18.47" height="3.55" fill="#00bef5"/>
<rect x="422.24" y="120.74" width="6.19" height="3.55" fill="#0055d7"/>
<rect x="428.38" y="120.74" width="12.33" height="3.55" fill="#00bef5"/>
<rect x="452.94" y="120.74" width="6.19" height="3.55" fill="#00bef5"/>
<rect x="459.08" y="120.74" width="3.12" height="3.55" fill="#ffffff"/>
<rect x="462.15" y="120.74" width="6.19" height="3.55" fill="#00bef5"/>
<rect x="468.29" y="120.74" width="12.33" height="3.55" fill="#ffffff"/>
<rect x="284.10" y="124.24" width="6.19" height="3.55" fill="#0055d7"/>
<rect x="299.45" y="124.24" width="64.52" height="3.55" fill="#0055d7"/>
<rect x="363.92" y="124.24" width="6.19" height="3.55" fill="#0014a0"/>
<rect x="370.06" y="124.24" width="6.19" height="3.55" fill="#0055d7"/>
<rect x="388.48" y="124.24" width="12.33" height="3.55" fill="#00bef5"/>
<rect x="400.76" y="124.24" width="6.19" height="3.55" fill="#ffffff"/>
<rect x="406.90" y="124.24" width="18.47" height="3.55" fill="#00bef5"/>
<rect x="425.31" y="124.24" width="3.12" height="3.55" fill="#0055d7"/>
<rect x="428.38" y="124.24" width="12.33" height="3.55" fill="#00bef5"/>
<rect x="446.80" y="124.24" width="6.19" height="3.55" fill="#00bef5"/>
<rect x="459.08" y="124.24" width="12.33" height="3.55" fill="#00bef5"/>
<rect x="471.36" y="124.24" width="9.26" height="3.55" fill="#ffffff"/>
<rect x="287.17" y="127.74" width="3.12" height="3.55" fill="#0055d7"/>
<rect x="302.52" y="127.74" width="61.45" height="3.55" fill="#0055d7"/>
<rect x="363.92" y="127.74" width="12.33" height="3.55" fill="#0014a0"/>
<rect x="391.55" y="127.74" width="9.26" height="3.55" fill="#00bef5"/>
<rect x="400.76" y="127.74" width="6.19" height="3.55" fill="#ffffff"/>
<rect x="406.90" y="127.74" width="9.26" height="3.55" fill="#0014a0"/>
<rect x="416.11" y="127.74" width="39.96" height="3.55" fill="#00bef5"/>
<rect x="459.08" y="127.74" width="3.12" height="3.55" fill="#00bef5"/>
<rect x="462.15" y="127.74" width="3.12" height="3.55" fill="#ffffff"/>
<rect x="465.22" y="127.74" width="6.19" height="3.55" fill="#00bef5"/>
<rect x="471.36" y="127.74" width="9.26" height="3.55" fill="#ffffff"/>
<rect x="296.38" y="131.24" width="6.19" height="3.55" fill="#0055d7"/>
<rect x="314.80" y="131.24" width="52.24" height="3.55" fill="#0055d7"/>
<rect x="366.99" y="131.24" width="3.12" height="3.55" fill="#0014a0"/>
<rect x="391.55" y="131.24" width="9.26" height="3.55" fill="#00bef5"/>
<rect x="422.24" y="131.24" width="6.19" height="3.55" fill="#00bef5"/>
<rect x="428.38" y="131.24" width="9.26" height="3.55" fill="#0055d7"/>
<rect x="437.59" y="131.24" width="33.82" height="3.55" fill="#00bef5"/>
<rect x="471.36" y="131.24" width="3.12" height="3.55" fill="#ffffff"/>
<rect x="299.45" y="134.74" width="3.12" height="3.55" fill="#0055d7"/>
<rect x="314.80" y="134.74" width="58.38" height="3.55" fill="#0055d7"/>
<rect x="388.48" y="134.74" width="12.33" height="3.55" fill="#0055d7"/>
<rect x="425.31" y="134.74" width="15.40" height="3.55" fill="#0055d7"/>
<rect x="440.66" y="134.74" width="33.82" height="3.55" fill="#00bef5"/>
<rect x="317.87" y="138.24" width="15.40" height="3.55" fill="#0055d7"/>
<rect x="342.43" y="138.24" width="33.82" height="3.55" fill="#0055d7"/>
<rect x="388.48" y="138.24" width="15.40" height="3.55" fill="#0055d7"/>
<rect x="428.38" y="138.24" width="15.40" height="3.55" fill="#0055d7"/>
<rect x="443.73" y="138.24" width="30.75" height="3.55" fill="#00bef5"/>
<rect x="317.87" y="141.74" width="18.47" height="3.55" fill="#0055d7"/>
<rect x="342.43" y="141.74" width="33.82" height="3.55" fill="#0055d7"/>
<rect x="388.48" y="141.74" width="18.47" height="3.55" fill="#0055d7"/>
<rect x="425.31" y="141.74" width="18.47" height="3.55" fill="#0055d7"/>
<rect x="443.73" y="141.74" width="27.68" height="3.55" fill="#00bef5"/>
<rect x="317.87" y="145.24" width="61.45" height="3.55" fill="#0055d7"/>
<rect x="388.48" y="145.24" width="21.54" height="3.55" fill="#0055d7"/>
<rect x="413.04" y="145.24" width="9.26" height="3.55" fill="#0055d7"/>
<rect x="434.52" y="145.24" width="9.26" height="3.55" fill="#0055d7"/>
<rect x="443.73" y="145.24" width="3.12" height="3.55" fill="#0014a0"/>
<rect x="446.80" y="145.24" width="24.61" height="3.55" fill="#00bef5"/>
<rect x="317.87" y="148.74" width="61.45" height="3.55" fill="#0055d7"/>
<rect x="388.48" y="148.74" width="27.68" height="3.55" fill="#0055d7"/>
<rect x="416.11" y="148.74" width="9.26" height="3.55" fill="#0014a0"/>
<rect x="425.31" y="148.74" width="21.54" height="3.55" fill="#0055d7"/>
<rect x="446.80" y="148.74" width="3.12" height="3.55" fill="#0014a0"/>
<rect x="449.87" y="148.74" width="9.26" height="3.55" fill="#00bef5"/>
<rect x="459.08" y="148.74" width="6.19" height="3.55" fill="#0014a0"/>
<rect x="465.22" y="148.74" width="6.19" height="3.55" fill="#00bef5"/>
<rect x="317.87" y="152.24" width="64.52" height="3.55" fill="#0055d7"/>
<rect x="388.48" y="152.24" width="12.33" height="3.55" fill="#0014a0"/>
<rect x="400.76" y="152.24" width="21.54" height="3.55" fill="#0055d7"/>
<rect x="422.24" y="152.24" width="3.12" height="3.55" fill="#0014a0"/>
<rect x="425.31" y="152.24" width="24.61" height="3.55" fill="#0055d7"/>
<rect x="449.87" y="152.24" width="12.33" height="3.55" fill="#00bef5"/>
<rect x="462.15" y="152.24" width="6.19" height="3.55" fill="#0014a0"/>
<rect x="468.29" y="152.24" width="3.12" height="3.55" fill="#00bef5"/>
<rect x="320.94" y="155.74" width="18.47" height="3.55" fill="#0055d7"/>
<rect x="345.50" y="155.74" width="46.10" height="3.55" fill="#0055d7"/>
<rect x="391.55" y="155.74" width="6.19" height="3.55" fill="#0014a0"/>
<rect x="397.69" y="155.74" width="21.54" height="3.55" fill="#0055d7"/>
<rect x="419.17" y="155.74" width="21.54" height="3.55" fill="#0014a0"/>
<rect x="443.73" y="155.74" width="9.26" height="3.55" fill="#0055d7"/>
<rect x="452.94" y="155.74" width="12.33" height="3.55" fill="#00bef5"/>
<rect x="465.22" y="155.74" width="3.12" height="3.55" fill="#0014a0"/>
<rect x="468.29" y="155.74" width="3.12" height="3.55" fill="#00bef5"/>
<rect x="324.01" y="159.24" width="92.14" height="3.55" fill="#0055d7"/>
<rect x="416.11" y="159.24" width="24.61" height="3.55" fill="#0014a0"/>
<rect x="452.94" y="159.24" width="3.12" height="3.55" fill="#0055d7"/>
<rect x="456.01" y="159.24" width="12.33" height="3.55" fill="#00bef5"/>
<rect x="327.08" y="162.74" width="89.07" height="3.55" fill="#0055d7"/>
<rect x="416.11" y="162.74" width="24.61" height="3.55" fill="#0014a0"/>
<rect x="330.15" y="166.24" width="18.47" height="3.55" fill="#0055d7"/>
<rect x="351.64" y="166.24" width="55.31" height="3.55" fill="#0055d7"/>
<rect x="406.90" y="166.24" width="3.12" height="3.55" fill="#0014a0"/>
<rect x="409.97" y="166.24" width="6.19" height="3.55" fill="#0055d7"/>
<rect x="416.11" y="166.24" width="24.61" height="3.55" fill="#0014a0"/>
<rect x="449.87" y="166.24" width="3.12" height="3.55" fill="#0055d7"/>
<rect x="452.94" y="166.24" width="3.12" height="3.55" fill="#00bef5"/>
<rect x="333.22" y="169.74" width="3.12" height="3.55" fill="#0055d7"/>
<rect x="345.50" y="169.74" width="43.03" height="3.55" fill="#0055d7"/>
<rect x="388.48" y="169.74" width="6.19" height="3.55" fill="#0014a0"/>
<rect x="394.62" y="169.74" width="9.26" height="3.55" fill="#0055d7"/>
<rect x="403.83" y="169.74" width="6.19" height="3.55" fill="#0014a0"/>
<rect x="409.97" y="169.74" width="3.12" height="3.55" fill="#0055d7"/>
<rect x="413.04" y="169.74" width="27.68" height="3.55" fill="#0014a0"/>
<rect x="452.94" y="169.74" width="6.19" height="3.55" fill="#00bef5"/>
<rect x="348.57" y="173.24" width="36.89" height="3.55" fill="#0055d7"/>
<rect x="385.41" y="173.24" width="6.19" height="3.55" fill="#0014a0"/>
<rect x="391.55" y="173.24" width="15.40" height="3.55" fill="#0055d7"/>
<rect x="406.90" y="173.24" width="49.17" height="3.55" fill="#0014a0"/>
<rect x="456.01" y="173.24" width="3.12" height="3.55" fill="#00bef5"/>
<rect x="459.08" y="173.24" width="12.33" height="3.55" fill="#0014a0"/>
<rect x="471.36" y="173.24" width="3.12" height="3.55" fill="#00bef5"/>
<rect x="348.57" y="176.74" width="58.38" height="3.55" fill="#0055d7"/>
<rect x="428.38" y="176.74" width="27.68" height="3.55" fill="#0014a0"/>
<rect x="456.01" y="176.74" width="3.12" height="3.55" fill="#00bef5"/>
<rect x="459.08" y="176.74" width="15.40" height="3.55" fill="#0014a0"/>
<rect x="348.57" y="180.24" width="58.38" height="3.55" fill="#0055d7"/>
<rect x="431.45" y="180.24" width="27.68" height="3.55" fill="#0014a0"/>
<rect x="459.08" y="180.24" width="6.19" height="3.55" fill="#00bef5"/>
<rect x="465.22" y="180.24" width="12.33" height="3.55" fill="#0014a0"/>
<rect x="360.85" y="183.74" width="46.10" height="3.55" fill="#0055d7"/>
<rect x="449.87" y="183.74" width="9.26" height="3.55" fill="#0014a0"/>
<rect x="459.08" y="183.74" width="6.19" height="3.55" fill="#00bef5"/>
<rect x="465.22" y="183.74" width="9.26" height="3.55" fill="#0014a0"/>
<rect x="474.43" y="183.74" width="3.12" height="3.55" fill="#00bef5"/>
<rect x="360.85" y="187.24" width="43.03" height="3.55" fill="#0055d7"/>
<rect x="403.83" y="187.24" width="6.19" height="3.55" fill="#0014a0"/>
<rect x="428.38" y="187.24" width="21.54" height="3.55" fill="#0014a0"/>
<rect x="462.15" y="187.24" width="3.12" height="3.55" fill="#00bef5"/>
<rect x="465.22" y="187.24" width="12.33" height="3.55" fill="#0014a0"/>
<rect x="360.85" y="190.74" width="43.03" height="3.55" fill="#0055d7"/>
<rect x="403.83" y="190.74" width="9.26" height="3.55" fill="#0014a0"/>
<rect x="428.38" y="190.74" width="21.54" height="3.55" fill="#0014a0"/>
<rect x="462.15" y="190.74" width="15.40" height="3.55" fill="#0014a0"/>
<rect x="360.85" y="194.24" width="46.10" height="3.55" fill="#0055d7"/>
<rect x="406.90" y="194.24" width="12.33" height="3.55" fill="#0014a0"/>
<rect x="440.66" y="194.24" width="9.26" height="3.55" fill="#0014a0"/>
<rect x="465.22" y="194.24" width="3.12" height="3.55" fill="#00bef5"/>
<rect x="474.43" y="194.24" width="3.12" height="3.55" fill="#0014a0"/>
<rect x="354.71" y="197.74" width="18.47" height="3.55" fill="#0014a0"/>
<rect x="373.13" y="197.74" width="30.75" height="3.55" fill="#0055d7"/>
<rect x="403.83" y="197.74" width="18.47" height="3.55" fill="#0014a0"/>
<rect x="357.78" y="201.24" width="3.12" height="3.55" fill="#0014a0"/>
<rect x="360.85" y="201.24" width="3.12" height="3.55" fill="#0055d7"/>
<rect x="363.92" y="201.24" width="61.45" height="3.55" fill="#0014a0"/>
<rect x="471.36" y="201.24" width="6.19" height="3.55" fill="#00bef5"/>
<rect x="477.50" y="201.24" width="3.12" height="3.55" fill="#0014a0"/>
<rect x="360.85" y="204.74" width="67.59" height="3.55" fill="#0014a0"/>
<rect x="477.50" y="204.74" width="6.19" height="3.55" fill="#00bef5"/>
<rect x="366.99" y="208.24" width="64.52" height="3.55" fill="#0014a0"/>
<rect x="366.99" y="211.74" width="79.86" height="3.55" fill="#0014a0"/>
<rect x="465.22" y="211.74" width="3.12" height="3.55" fill="#0014a0"/>
<rect x="486.71" y="211.74" width="6.19" height="3.55" fill="#ffffff"/>
<rect x="357.78" y="215.24" width="3.12" height="3.55" fill="#0014a0"/>
<rect x="382.34" y="215.24" width="18.47" height="3.55" fill="#0014a0"/>
<rect x="413.04" y="215.24" width="36.89" height="3.55" fill="#0014a0"/>
<rect x="486.71" y="215.24" width="6.19" height="3.55" fill="#ffffff"/>
<rect x="416.11" y="218.74" width="36.89" height="3.55" fill="#0014a0"/>
<rect x="462.15" y="218.74" width="3.12" height="3.55" fill="#0014a0"/>
<rect x="425.31" y="222.24" width="27.68" height="3.55" fill="#0014a0"/>
<rect x="459.08" y="222.24" width="6.19" height="3.55" fill="#0014a0"/>
<rect x="495.92" y="222.24" width="6.19" height="3.55" fill="#ffffff"/>
<rect x="434.52" y="225.74" width="30.75" height="3.55" fill="#0014a0"/>
<rect x="492.85" y="225.74" width="3.12" height="3.55" fill="#00bef5"/>
<rect x="498.99" y="225.74" width="3.12" height="3.55" fill="#00bef5"/>
<rect x="373.13" y="229.24" width="27.68" height="3.55" fill="#0014a0"/>
<rect x="437.59" y="229.24" width="27.68" height="3.55" fill="#0014a0"/>
<rect x="370.06" y="232.74" width="30.75" height="3.55" fill="#0014a0"/>
<rect x="443.73" y="232.74" width="21.54" height="3.55" fill="#0014a0"/>
<rect x="373.13" y="236.24" width="15.40" height="3.55" fill="#0014a0"/>
<rect x="388.48" y="236.24" width="3.12" height="3.55" fill="#00bef5"/>
<rect x="391.55" y="236.24" width="9.26" height="3.55" fill="#0014a0"/>
<rect x="459.08" y="236.24" width="6.19" height="3.55" fill="#0014a0"/>
<rect x="508.20" y="236.24" width="3.12" height="3.55" fill="#00bef5"/>
<rect x="373.13" y="239.74" width="15.40" height="3.55" fill="#0014a0"/>
<rect x="388.48" y="239.74" width="3.12" height="3.55" fill="#00bef5"/>
<rect x="391.55" y="239.74" width="9.26" height="3.55" fill="#0014a0"/>
<rect x="505.13" y="239.74" width="6.19" height="3.55" fill="#00bef5"/>
<rect x="511.27" y="239.74" width="3.12" height="3.55" fill="#ffffff"/>
<rect x="391.55" y="243.24" width="3.12" height="3.55" fill="#0014a0"/>
<rect x="505.13" y="243.24" width="6.19" height="3.55" fill="#00bef5"/>
<rect x="505.13" y="246.74" width="3.12" height="3.55" fill="#00bef5"/>
<rect x="514.34" y="246.74" width="3.12" height="3.55" fill="#ffffff"/>
<rect x="400.76" y="250.24" width="3.12" height="3.55" fill="#0014a0"/>
<rect x="403.83" y="250.24" width="3.12" height="3.55" fill="#0055d7"/>
<rect x="406.90" y="250.24" width="21.54" height="3.55" fill="#0014a0"/>
<rect x="400.76" y="253.74" width="27.68" height="3.55" fill="#0014a0"/>
<rect x="400.76" y="257.24" width="6.19" height="3.55" fill="#0014a0"/>
<rect x="406.90" y="257.24" width="3.12" height="3.55" fill="#00bef5"/>
<rect x="409.97" y="257.24" width="18.47" height="3.55" fill="#0014a0"/>
<rect x="403.83" y="260.74" width="3.12" height="3.55" fill="#00bef5"/>
<rect x="419.17" y="260.74" width="33.82" height="3.55" fill="#0014a0"/>
<rect x="413.04" y="264.24" width="3.12" height="3.55" fill="#00bef5"/>
<rect x="419.17" y="264.24" width="39.96" height="3.55" fill="#0014a0"/>
<rect x="419.17" y="267.74" width="33.82" height="3.55" fill="#0014a0"/>
<rect x="529.69" y="267.74" width="3.12" height="3.55" fill="#00bef5"/>
<rect x="419.17" y="271.24" width="33.82" height="3.55" fill="#0014a0"/>
<rect x="529.69" y="271.24" width="3.12" height="3.55" fill="#00bef5"/>
<rect x="419.17" y="274.74" width="33.82" height="3.55" fill="#0014a0"/>
<rect x="373.13" y="306.24" width="3.12" height="3.55" fill="#0014a0"/>
<rect x="376.20" y="306.24" width="9.26" height="3.55" fill="#001098"/>
<rect x="443.73" y="306.24" width="92.14" height="3.55" fill="#0014a0"/>
<rect x="535.83" y="306.24" width="3.12" height="3.55" fill="#00bef5"/>
<rect x="256.48" y="309.74" width="3.12" height="3.55" fill="#0014a0"/>
<rect x="373.13" y="309.74" width="9.26" height="3.55" fill="#0014a0"/>
<rect x="437.59" y="309.74" width="95.21" height="3.55" fill="#0014a0"/>
<rect x="532.76" y="309.74" width="15.40" height="3.55" fill="#00bef5"/>
<rect x="38.52" y="313.24" width="18.47" height="3.55" fill="#001098"/>
<rect x="373.13" y="313.24" width="9.26" height="3.55" fill="#0014a0"/>
<rect x="431.45" y="313.24" width="101.35" height="3.55" fill="#0014a0"/>
<rect x="532.76" y="313.24" width="15.40" height="3.55" fill="#00bef5"/>
<rect x="38.52" y="316.74" width="18.47" height="3.55" fill="#001098"/>
<rect x="373.13" y="316.74" width="9.26" height="3.55" fill="#0014a0"/>
<rect x="428.38" y="316.74" width="104.42" height="3.55" fill="#0014a0"/>
<rect x="532.76" y="316.74" width="9.26" height="3.55" fill="#00bef5"/>
<rect x="38.52" y="320.24" width="18.47" height="3.55" fill="#001098"/>
<rect x="370.06" y="320.24" width="12.33" height="3.55" fill="#0014a0"/>
<rect x="428.38" y="320.24" width="104.42" height="3.55" fill="#0014a0"/>
<rect x="532.76" y="320.24" width="9.26" height="3.55" fill="#00bef5"/>
<rect x="38.52" y="323.74" width="24.61" height="3.55" fill="#001098"/>
<rect x="155.17" y="323.74" width="15.40" height="3.55" fill="#001098"/>
<rect x="366.99" y="323.74" width="3.12" height="3.55" fill="#001098"/>
<rect x="370.06" y="323.74" width="12.33" height="3.55" fill="#0014a0"/>
<rect x="431.45" y="323.74" width="104.42" height="3.55" fill="#0014a0"/>
<rect x="535.83" y="323.74" width="9.26" height="3.55" fill="#00bef5"/>
<rect x="38.52" y="327.24" width="27.68" height="3.55" fill="#001098"/>
<rect x="155.17" y="327.24" width="24.61" height="3.55" fill="#001098"/>
<rect x="287.17" y="327.24" width="3.12" height="3.55" fill="#0014a0"/>
<rect x="363.92" y="327.24" width="6.19" height="3.55" fill="#001098"/>
<rect x="370.06" y="327.24" width="9.26" height="3.55" fill="#0014a0"/>
<rect x="379.27" y="327.24" width="3.12" height="3.55" fill="#001098"/>
<rect x="431.45" y="327.24" width="110.56" height="3.55" fill="#0014a0"/>
<rect x="541.97" y="327.24" width="6.19" height="3.55" fill="#00bef5"/>
<rect x="38.52" y="330.74" width="30.75" height="3.55" fill="#001098"/>
<rect x="155.17" y="330.74" width="24.61" height="3.55" fill="#001098"/>
<rect x="366.99" y="330.74" width="12.33" height="3.55" fill="#001098"/>
<rect x="434.52" y="330.74" width="43.03" height="3.55" fill="#0014a0"/>
<rect x="477.50" y="330.74" width="12.33" height="3.55" fill="#0055d7"/>
<rect x="489.78" y="330.74" width="52.24" height="3.55" fill="#0014a0"/>
<rect x="541.97" y="330.74" width="9.26" height="3.55" fill="#00bef5"/>
<rect x="38.52" y="334.24" width="30.75" height="3.55" fill="#001098"/>
<rect x="155.17" y="334.24" width="24.61" height="3.55" fill="#001098"/>
<rect x="366.99" y="334.24" width="3.12" height="3.55" fill="#001098"/>
<rect x="437.59" y="334.24" width="9.26" height="3.55" fill="#0014a0"/>
<rect x="446.80" y="334.24" width="27.68" height="3.55" fill="#0055d7"/>
<rect x="474.43" y="334.24" width="3.12" height="3.55" fill="#0014a0"/>
<rect x="477.50" y="334.24" width="12.33" height="3.55" fill="#0055d7"/>
<rect x="489.78" y="334.24" width="58.38" height="3.55" fill="#0014a0"/>
<rect x="548.11" y="334.24" width="3.12" height="3.55" fill="#00bef5"/>
<rect x="38.52" y="337.74" width="27.68" height="3.55" fill="#001098"/>
<rect x="155.17" y="337.74" width="24.61" height="3.55" fill="#001098"/>
<rect x="440.66" y="337.74" width="6.19" height="3.55" fill="#0014a0"/>
<rect x="446.80" y="337.74" width="27.68" height="3.55" fill="#0055d7"/>
<rect x="474.43" y="337.74" width="76.80" height="3.55" fill="#0014a0"/>
<rect x="38.52" y="341.24" width="27.68" height="3.55" fill="#001098"/>
<rect x="155.17" y="341.24" width="24.61" height="3.55" fill="#001098"/>
<rect x="443.73" y="341.24" width="3.12" height="3.55" fill="#0014a0"/>
<rect x="446.80" y="341.24" width="18.47" height="3.55" fill="#0055d7"/>
<rect x="465.22" y="341.24" width="3.12" height="3.55" fill="#00bef5"/>
<rect x="468.29" y="341.24" width="6.19" height="3.55" fill="#0055d7"/>
<rect x="474.43" y="341.24" width="79.86" height="3.55" fill="#0014a0"/>
<rect x="38.52" y="344.74" width="21.54" height="3.55" fill="#001098"/>
<rect x="158.24" y="344.74" width="21.54" height="3.55" fill="#001098"/>
<rect x="486.71" y="344.74" width="64.52" height="3.55" fill="#0014a0"/>
<rect x="158.24" y="348.24" width="21.54" height="3.55" fill="#001098"/>
<rect x="241.13" y="348.24" width="9.26" height="3.55" fill="#001098"/>
<rect x="489.78" y="348.24" width="18.47" height="3.55" fill="#0014a0"/>
<rect x="511.27" y="348.24" width="36.89" height="3.55" fill="#0014a0"/>
<rect x="548.11" y="348.24" width="6.19" height="3.55" fill="#00bef5"/>
<rect x="158.24" y="351.74" width="21.54" height="3.55" fill="#001098"/>
<rect x="241.13" y="351.74" width="9.26" height="3.55" fill="#001098"/>
<rect x="492.85" y="351.74" width="3.12" height="3.55" fill="#0014a0"/>
<rect x="520.48" y="351.74" width="12.33" height="3.55" fill="#0014a0"/>
<rect x="554.25" y="351.74" width="6.19" height="3.55" fill="#00bef5"/>
<rect x="158.24" y="355.24" width="21.54" height="3.55" fill="#001098"/>
<rect x="241.13" y="355.24" width="9.26" height="3.55" fill="#001098"/>
<rect x="557.32" y="355.24" width="9.26" height="3.55" fill="#00bef5"/>
<rect x="158.24" y="358.74" width="27.68" height="3.55" fill="#001098"/>
<rect x="241.13" y="358.74" width="6.19" height="3.55" fill="#001098"/>
<rect x="247.27" y="358.74" width="43.03" height="3.55" fill="#0014a0"/>
<rect x="557.32" y="358.74" width="9.26" height="3.55" fill="#00bef5"/>
<rect x="569.60" y="358.74" width="3.12" height="3.55" fill="#ff9600"/>
<rect x="158.24" y="362.24" width="33.82" height="3.55" fill="#001098"/>
<rect x="247.27" y="362.24" width="43.03" height="3.55" fill="#0014a0"/>
<rect x="152.10" y="365.74" width="39.96" height="3.55" fill="#001098"/>
<rect x="247.27" y="365.74" width="43.03" height="3.55" fill="#0014a0"/>
<rect x="152.10" y="369.24" width="39.96" height="3.55" fill="#001098"/>
<rect x="247.27" y="369.24" width="43.03" height="3.55" fill="#0014a0"/>
<rect x="38.52" y="372.74" width="18.47" height="3.55" fill="#001098"/>
<rect x="152.10" y="372.74" width="30.75" height="3.55" fill="#001098"/>
<rect x="182.80" y="372.74" width="3.12" height="3.55" fill="#00bef5"/>
<rect x="185.87" y="372.74" width="6.19" height="3.55" fill="#001098"/>
<rect x="247.27" y="372.74" width="43.03" height="3.55" fill="#0014a0"/>
<rect x="38.52" y="376.24" width="21.54" height="3.55" fill="#001098"/>
<rect x="149.03" y="376.24" width="33.82" height="3.55" fill="#001098"/>
<rect x="182.80" y="376.24" width="6.19" height="3.55" fill="#00bef5"/>
<rect x="247.27" y="376.24" width="43.03" height="3.55" fill="#0014a0"/>
<rect x="38.52" y="379.74" width="39.96" height="3.55" fill="#001098"/>
<rect x="149.03" y="379.74" width="39.96" height="3.55" fill="#001098"/>
<rect x="247.27" y="379.74" width="43.03" height="3.55" fill="#0014a0"/>
<rect x="290.24" y="379.74" width="6.19" height="3.55" fill="#001098"/>
<rect x="38.52" y="383.24" width="46.10" height="3.55" fill="#001098"/>
<rect x="149.03" y="383.24" width="73.73" height="3.55" fill="#001098"/>
<rect x="262.62" y="383.24" width="39.96" height="3.55" fill="#001098"/>
<rect x="38.52" y="386.74" width="49.17" height="3.55" fill="#001098"/>
<rect x="149.03" y="386.74" width="82.93" height="3.55" fill="#001098"/>
<rect x="268.75" y="386.74" width="30.75" height="3.55" fill="#001098"/>
<rect x="299.45" y="386.74" width="9.26" height="3.55" fill="#0055d7"/>
<rect x="38.52" y="390.24" width="49.17" height="3.55" fill="#001098"/>
<rect x="149.03" y="390.24" width="86.00" height="3.55" fill="#001098"/>
<rect x="274.89" y="390.24" width="24.61" height="3.55" fill="#001098"/>
<rect x="299.45" y="390.24" width="9.26" height="3.55" fill="#0055d7"/>
<rect x="308.66" y="390.24" width="3.12" height="3.55" fill="#001098"/>
<rect x="38.52" y="393.74" width="52.24" height="3.55" fill="#001098"/>
<rect x="102.99" y="393.74" width="12.33" height="3.55" fill="#001098"/>
<rect x="149.03" y="393.74" width="89.07" height="3.55" fill="#001098"/>
<rect x="277.96" y="393.74" width="18.47" height="3.55" fill="#001098"/>
<rect x="296.38" y="393.74" width="3.12" height="3.55" fill="#00bef5"/>
<rect x="299.45" y="393.74" width="15.40" height="3.55" fill="#001098"/>
<rect x="38.52" y="397.24" width="79.86" height="3.55" fill="#001098"/>
<rect x="145.96" y="397.24" width="92.14" height="3.55" fill="#001098"/>
<rect x="277.96" y="397.24" width="43.03" height="3.55" fill="#001098"/>
<rect x="38.52" y="400.74" width="82.93" height="3.55" fill="#001098"/>
<rect x="142.89" y="400.74" width="98.28" height="3.55" fill="#001098"/>
<rect x="281.03" y="400.74" width="43.03" height="3.55" fill="#001098"/>
<rect x="38.52" y="404.24" width="86.00" height="3.55" fill="#001098"/>
<rect x="136.75" y="404.24" width="107.49" height="3.55" fill="#001098"/>
<rect x="284.10" y="404.24" width="43.03" height="3.55" fill="#001098"/>
<rect x="44.66" y="407.74" width="205.73" height="3.55" fill="#001098"/>
<rect x="287.17" y="407.74" width="43.03" height="3.55" fill="#001098"/>
<rect x="56.94" y="411.24" width="199.59" height="3.55" fill="#001098"/>
<rect x="293.31" y="411.24" width="39.96" height="3.55" fill="#001098"/>
<rect x="63.08" y="414.74" width="196.52" height="3.55" fill="#001098"/>
<rect x="299.45" y="414.74" width="27.68" height="3.55" fill="#001098"/>
<rect x="327.08" y="414.74" width="3.12" height="3.55" fill="#00c8aa"/>
<rect x="330.15" y="414.74" width="6.19" height="3.55" fill="#001098"/>
<rect x="69.22" y="418.24" width="193.45" height="3.55" fill="#001098"/>
<rect x="302.52" y="418.24" width="24.61" height="3.55" fill="#001098"/>
<rect x="327.08" y="418.24" width="3.12" height="3.55" fill="#00c8aa"/>
<rect x="330.15" y="418.24" width="6.19" height="3.55" fill="#00bef5"/>
<rect x="336.29" y="418.24" width="3.12" height="3.55" fill="#001098"/>
<rect x="588.01" y="418.24" width="9.26" height="3.55" fill="#0014a0"/>
<rect x="597.22" y="418.24" width="3.12" height="3.55" fill="#00bef5"/>
<rect x="78.43" y="421.74" width="178.10" height="3.55" fill="#001098"/>
<rect x="302.52" y="421.74" width="24.61" height="3.55" fill="#001098"/>
<rect x="327.08" y="421.74" width="3.12" height="3.55" fill="#00c8aa"/>
<rect x="330.15" y="421.74" width="6.19" height="3.55" fill="#00bef5"/>
<rect x="336.29" y="421.74" width="3.12" height="3.55" fill="#001098"/>
<rect x="591.08" y="421.74" width="3.12" height="3.55" fill="#00bef5"/>
<rect x="594.15" y="421.74" width="6.19" height="3.55" fill="#c03800"/>
<rect x="84.57" y="425.24" width="168.89" height="3.55" fill="#001098"/>
<rect x="305.59" y="425.24" width="21.54" height="3.55" fill="#001098"/>
<rect x="327.08" y="425.24" width="3.12" height="3.55" fill="#00c8aa"/>
<rect x="330.15" y="425.24" width="15.40" height="3.55" fill="#001098"/>
<rect x="594.15" y="425.24" width="6.19" height="3.55" fill="#c03800"/>
<rect x="90.71" y="428.74" width="156.61" height="3.55" fill="#001098"/>
<rect x="317.87" y="428.74" width="30.75" height="3.55" fill="#001098"/>
<rect x="594.15" y="428.74" width="6.19" height="3.55" fill="#c03800"/>
<rect x="93.78" y="432.24" width="150.47" height="3.55" fill="#001098"/>
<rect x="330.15" y="432.24" width="24.61" height="3.55" fill="#001098"/>
<rect x="594.15" y="432.24" width="9.26" height="3.55" fill="#c03800"/>
<rect x="93.78" y="435.74" width="150.47" height="3.55" fill="#001098"/>
<rect x="339.36" y="435.74" width="9.26" height="3.55" fill="#001098"/>
<rect x="597.22" y="435.74" width="6.19" height="3.55" fill="#c03800"/>
<rect x="93.78" y="439.24" width="150.47" height="3.55" fill="#001098"/>
<rect x="600.29" y="439.24" width="3.12" height="3.55" fill="#c03800"/>
<rect x="96.85" y="442.74" width="125.91" height="3.55" fill="#001098"/>
<rect x="600.29" y="442.74" width="6.19" height="3.55" fill="#c03800"/>
<rect x="99.92" y="446.24" width="122.84" height="3.55" fill="#001098"/>
<rect x="600.29" y="446.24" width="6.19" height="3.55" fill="#c03800"/>
<rect x="102.99" y="449.74" width="119.77" height="3.55" fill="#001098"/>
<rect x="106.06" y="453.24" width="116.70" height="3.55" fill="#001098"/>
<rect x="109.13" y="456.74" width="55.31" height="3.55" fill="#001098"/>
<rect x="112.19" y="460.24" width="49.17" height="3.55" fill="#001098"/>
<rect x="115.26" y="463.74" width="43.03" height="3.55" fill="#001098"/>
<rect x="118.33" y="467.24" width="30.75" height="3.55" fill="#001098"/>
<rect x="541.97" y="467.24" width="12.33" height="3.55" fill="#0014a0"/>
<rect x="541.97" y="470.74" width="12.33" height="3.55" fill="#0014a0"/>
<rect x="597.22" y="470.74" width="3.12" height="3.55" fill="#0014a0"/>
<rect x="541.97" y="474.24" width="12.33" height="3.55" fill="#0014a0"/>
<rect x="541.97" y="477.74" width="12.33" height="3.55" fill="#0014a0"/>
<rect x="541.97" y="481.24" width="12.33" height="3.55" fill="#0014a0"/>
<rect x="210.43" y="484.74" width="21.54" height="3.55" fill="#001098"/>
<rect x="538.90" y="484.74" width="21.54" height="3.55" fill="#0014a0"/>
<rect x="210.43" y="488.24" width="21.54" height="3.55" fill="#001098"/>
<rect x="538.90" y="488.24" width="21.54" height="3.55" fill="#0014a0"/>
<rect x="210.43" y="491.74" width="24.61" height="3.55" fill="#001098"/>
<rect x="538.90" y="491.74" width="21.54" height="3.55" fill="#0014a0"/>
<rect x="210.43" y="495.24" width="24.61" height="3.55" fill="#001098"/>
<rect x="538.90" y="495.24" width="21.54" height="3.55" fill="#0014a0"/>
<rect x="210.43" y="498.74" width="27.68" height="3.55" fill="#001098"/>
<rect x="538.90" y="498.74" width="3.12" height="3.55" fill="#0014a0"/>
<rect x="541.97" y="498.74" width="3.12" height="3.55" fill="#0055d7"/>
<rect x="545.04" y="498.74" width="15.40" height="3.55" fill="#0014a0"/>
<rect x="210.43" y="502.24" width="27.68" height="3.55" fill="#001098"/>
<rect x="591.08" y="502.24" width="3.12" height="3.55" fill="#0014a0"/>
<rect x="600.29" y="502.24" width="3.12" height="3.55" fill="#ffffff"/>
<rect x="213.50" y="505.74" width="24.61" height="3.55" fill="#001098"/>
<rect x="213.50" y="509.24" width="24.61" height="3.55" fill="#001098"/>
<rect x="216.57" y="512.74" width="21.54" height="3.55" fill="#001098"/>
<rect x="526.62" y="512.74" width="6.19" height="3.55" fill="#00bef5"/>
<rect x="216.57" y="516.24" width="12.33" height="3.55" fill="#001098"/>
<rect x="526.62" y="516.24" width="6.19" height="3.55" fill="#00bef5"/>
<rect x="532.76" y="516.24" width="15.40" height="3.55" fill="#0055d7"/>
<rect x="548.11" y="516.24" width="9.26" height="3.55" fill="#0014a0"/>
<rect x="526.62" y="519.74" width="6.19" height="3.55" fill="#00bef5"/>
<rect x="532.76" y="519.74" width="15.40" height="3.55" fill="#0055d7"/>
<rect x="548.11" y="519.74" width="9.26" height="3.55" fill="#0014a0"/>
<rect x="600.29" y="519.74" width="3.12" height="3.55" fill="#ff9600"/>
<rect x="526.62" y="523.24" width="6.19" height="3.55" fill="#00bef5"/>
<rect x="532.76" y="523.24" width="15.40" height="3.55" fill="#0055d7"/>
<rect x="548.11" y="523.24" width="9.26" height="3.55" fill="#0014a0"/>
<rect x="256.48" y="526.74" width="12.33" height="3.55" fill="#001098"/>
<rect x="480.57" y="526.74" width="3.12" height="3.55" fill="#0014a0"/>
<rect x="523.55" y="526.74" width="6.19" height="3.55" fill="#00bef5"/>
<rect x="529.69" y="526.74" width="6.19" height="3.55" fill="#0055d7"/>
<rect x="535.83" y="526.74" width="3.12" height="3.55" fill="#0014a0"/>
<rect x="538.90" y="526.74" width="9.26" height="3.55" fill="#0055d7"/>
<rect x="548.11" y="526.74" width="9.26" height="3.55" fill="#0014a0"/>
<rect x="259.55" y="530.24" width="18.47" height="3.55" fill="#001098"/>
<rect x="480.57" y="530.24" width="3.12" height="3.55" fill="#0014a0"/>
<rect x="523.55" y="530.24" width="6.19" height="3.55" fill="#00bef5"/>
<rect x="529.69" y="530.24" width="6.19" height="3.55" fill="#0055d7"/>
<rect x="535.83" y="530.24" width="3.12" height="3.55" fill="#0014a0"/>
<rect x="538.90" y="530.24" width="9.26" height="3.55" fill="#0055d7"/>
<rect x="548.11" y="530.24" width="9.26" height="3.55" fill="#0014a0"/>
<rect x="259.55" y="533.74" width="18.47" height="3.55" fill="#001098"/>
<rect x="477.50" y="533.74" width="12.33" height="3.55" fill="#0014a0"/>
<rect x="489.78" y="533.74" width="6.19" height="3.55" fill="#00bef5"/>
<rect x="502.06" y="533.74" width="3.12" height="3.55" fill="#00bef5"/>
<rect x="514.34" y="533.74" width="3.12" height="3.55" fill="#00bef5"/>
<rect x="517.41" y="533.74" width="6.19" height="3.55" fill="#0014a0"/>
<rect x="523.55" y="533.74" width="6.19" height="3.55" fill="#00bef5"/>
<rect x="529.69" y="533.74" width="12.33" height="3.55" fill="#0055d7"/>
<rect x="541.97" y="533.74" width="15.40" height="3.55" fill="#0014a0"/>
<rect x="259.55" y="537.24" width="18.47" height="3.55" fill="#001098"/>
<rect x="474.43" y="537.24" width="15.40" height="3.55" fill="#0014a0"/>
<rect x="489.78" y="537.24" width="15.40" height="3.55" fill="#00bef5"/>
<rect x="514.34" y="537.24" width="12.33" height="3.55" fill="#0014a0"/>
<rect x="526.62" y="537.24" width="3.12" height="3.55" fill="#00bef5"/>
<rect x="529.69" y="537.24" width="12.33" height="3.55" fill="#0055d7"/>
<rect x="541.97" y="537.24" width="15.40" height="3.55" fill="#0014a0"/>
<rect x="259.55" y="540.74" width="18.47" height="3.55" fill="#001098"/>
<rect x="471.36" y="540.74" width="24.61" height="3.55" fill="#0014a0"/>
<rect x="495.92" y="540.74" width="9.26" height="3.55" fill="#00bef5"/>
<rect x="514.34" y="540.74" width="12.33" height="3.55" fill="#0014a0"/>
<rect x="538.90" y="540.74" width="6.19" height="3.55" fill="#00bef5"/>
<rect x="545.04" y="540.74" width="9.26" height="3.55" fill="#0055d7"/>
<rect x="554.25" y="540.74" width="3.12" height="3.55" fill="#0014a0"/>
<rect x="259.55" y="544.24" width="18.47" height="3.55" fill="#001098"/>
<rect x="486.71" y="544.24" width="9.26" height="3.55" fill="#0014a0"/>
<rect x="498.99" y="544.24" width="3.12" height="3.55" fill="#00bef5"/>
<rect x="514.34" y="544.24" width="12.33" height="3.55" fill="#0014a0"/>
<rect x="541.97" y="544.24" width="6.19" height="3.55" fill="#00bef5"/>
<rect x="548.11" y="544.24" width="9.26" height="3.55" fill="#0014a0"/>
<rect x="563.46" y="544.24" width="6.19" height="3.55" fill="#0014a0"/>
<rect x="259.55" y="547.74" width="18.47" height="3.55" fill="#001098"/>
<rect x="514.34" y="547.74" width="12.33" height="3.55" fill="#0014a0"/>
<rect x="535.83" y="547.74" width="3.12" height="3.55" fill="#00bef5"/>
<rect x="541.97" y="547.74" width="3.12" height="3.55" fill="#00bef5"/>
<rect x="545.04" y="547.74" width="12.33" height="3.55" fill="#0014a0"/>
<rect x="563.46" y="547.74" width="6.19" height="3.55" fill="#0014a0"/>
</g>
</g>
<path d="M39 551.5 H699" stroke="#000" stroke-width="1"/>
<path d="M234.99 27.5 H244.20 M253.41 27.5 H259.55 M284.10 27.5 H287.17 M302.52 27.5 H333.22 M336.29 27.5 H345.50 M416.11 27.5 H425.31" stroke="#000" stroke-width="1" shape-rendering="crispEdges"/>
<g clip-path="url(#pc2)">
<polygon points="435.5,25.0 435.5,27.0 440.0,37.5 445.0,46.0 450.5,54.0 456.0,65.0 460.5,75.0 465.0,86.0 470.0,96.0 473.0,107.5 476.0,117.5 480.0,124.0 479.0,130.0 475.0,136.0 470.0,148.0 470.0,158.0 474.0,173.0 477.0,185.5 478.0,198.0 478.7,200.0 482.4,205.0 486.2,211.2 489.9,216.2 496.1,221.1 501.1,223.6 504.2,228.6 507.3,233.6 511.0,238.6 515.4,243.5 517.9,248.5 520.4,253.5 524.7,258.5 528.1,262.0 532.4,267.6 536.2,273.2 539.3,280.7 543.0,286.9 545.5,293.1 546.7,301.8 547.6,309.3 546.7,316.7 541.8,320.2 545.5,321.7 548.0,326.7 549.2,329.8 550.0,333.5 555.0,343.5 565.0,353.5 574.0,362.0 580.0,370.0 586.0,378.5 590.0,388.5 592.5,398.5 595.0,408.5 596.0,418.5 600.0,423.5 602.5,436.0 605.0,444.0 605.0,449.0 602.5,459.0 601.0,471.5 600.0,484.0 601.0,496.5 603.0,506.5 602.5,519.0 601.0,529.0 600.0,539.0 602.5,546.5 605.0,551.5 605.0,554.0 701.0,553.5 701.0,25.0" fill="#ffcc99"/>
<polygon points="407.3,268 413,268 413,261.7" fill="#fff"/>
<path d="M404.8 268 L414.2 258.3" stroke="#000" stroke-width="1.1"/>
<rect x="418.2" y="265" width="1.6" height="3" fill="#000"/>
<circle cx="405.4" cy="264.8" r="1.2" fill="#ffbe78"/>
<circle cx="411" cy="260.2" r="1.2" fill="#ffbe78"/>
<circle cx="400.5" cy="261.4" r="0.7" fill="#ffbe78"/>
<circle cx="391.4" cy="236.8" r="1.1" fill="#ffbe78"/>
<path d="M390.2 234.8 L392.2 236.6" stroke="#000" stroke-width="1.1"/>
<path d="M454.5 340.8 L447 354.5" stroke="#000" stroke-width="1"/>
<circle cx="454.5" cy="340.8" r="1" fill="#ffaa50"/>
<circle cx="447" cy="354.5" r="0.9" fill="#ffaa50"/>
<circle cx="512" cy="472.8" r="1.9" fill="#bebebe"/>
<circle cx="504" cy="497" r="1" fill="#bebebe"/>
<circle cx="439" cy="474.5" r="0.6" fill="#bebebe"/>
<polyline points="435.5,25.0 435.5,27.0 440.0,37.5 445.0,46.0 450.5,54.0 456.0,65.0 460.5,75.0 465.0,86.0 470.0,96.0 473.0,107.5 476.0,117.5 480.0,124.0 479.0,130.0 475.0,136.0 470.0,148.0 470.0,158.0 474.0,173.0 477.0,185.5 478.0,198.0 478.7,200.0 482.4,205.0 486.2,211.2 489.9,216.2 496.1,221.1 501.1,223.6 504.2,228.6 507.3,233.6 511.0,238.6 515.4,243.5 517.9,248.5 520.4,253.5 524.7,258.5 528.1,262.0 532.4,267.6 536.2,273.2 539.3,280.7 543.0,286.9 545.5,293.1 546.7,301.8 547.6,309.3 546.7,316.7 541.8,320.2 545.5,321.7 548.0,326.7 549.2,329.8 550.0,333.5 555.0,343.5 565.0,353.5 574.0,362.0 580.0,370.0 586.0,378.5 590.0,388.5 592.5,398.5 595.0,408.5 596.0,418.5 600.0,423.5 602.5,436.0 605.0,444.0 605.0,449.0 602.5,459.0 601.0,471.5 600.0,484.0 601.0,496.5 603.0,506.5 602.5,519.0 601.0,529.0 600.0,539.0 602.5,546.5 605.0,551.5 605.0,554.0" fill="none" stroke="#000" stroke-width="1.2" stroke-linejoin="round"/>
<polyline points="165.5,25.0 165.5,40.0 172.3,57.6 174.8,69.4 177.9,71.3 177.9,78.7 182.3,86.2 187.2,93.0 193.3,98.3 196.7,103.3 203.3,105.0 208.3,116.7 216.7,130.0 226.7,148.3 228.3,160.0 235.0,163.3 236.7,176.7 246.7,181.7 240.0,190.0 241.7,203.3 247.0,208.7 252.0,217.0 255.3,233.7 270.3,240.3 272.0,228.7 280.3,223.7 287.0,228.7 288.7,240.3 280.3,253.7 277.0,268.7 277.7,278.7 305.3,277.0 313.7,285.3 333.7,292.0 342.0,298.7 353.7,310.3 363.7,327.0 377.0,340.3 390.3,352.0 393.7,363.7 400.3,377.0 407.0,385.0 413.7,398.3 417.0,411.7 416.3,431.7 420.3,451.7 425.3,465.0 432.0,468.3 438.7,478.3 453.7,488.3 463.7,498.3 468.7,511.7 480.3,525.0 490.3,536.7 495.0,542.8 501.3,553.0" fill="none" stroke="#b4b4b4" stroke-width="1" stroke-linejoin="round"/>
<polyline points="282.0,25.0 282.0,27.3 287.0,43.3 286.3,53.3 295.3,70.0 302.0,93.3 310.3,120.0 320.3,146.7 330.3,166.7 340.3,193.3 347.0,210.3 357.0,230.3 367.0,257.0 377.0,283.7 387.0,307.0 397.0,323.7 405.3,340.3 417.0,357.0 428.7,372.0 438.7,385.0 450.3,401.7 463.7,421.7 477.0,441.7 490.0,464.0 500.0,481.5 510.0,499.0 520.0,511.5 527.5,526.5 532.5,544.0 535.0,553.0" fill="none" stroke="#b4b4b4" stroke-width="1" stroke-linejoin="round"/>
<polyline points="37.0,60.0 39.0,56.0 52.7,27.3 53.8,25.0" fill="none" stroke="#fff" stroke-width="1" stroke-linejoin="round" shape-rendering="crispEdges"/>
<polyline points="116.0,79.3 146.7,94.0 161.7,114.0 162.7,149.3 146.7,158.3 117.3,155.0 106.0,146.0 88.3,114.3 116.0,79.3" fill="none" stroke="#fff" stroke-width="1" stroke-linejoin="round" shape-rendering="crispEdges"/>
<polyline points="151.0,25.0 154.0,27.3 176.7,45.0 205.0,80.0 222.7,116.7 226.7,146.7 221.7,183.3 213.3,197.0 206.7,205.0 185.0,216.7 178.0,218.8 160.5,218.8 145.4,217.8 122.0,210.0 100.0,202.7 88.3,197.0 63.3,182.7 39.0,160.7 36.0,158.0" fill="none" stroke="#fff" stroke-width="1" stroke-linejoin="round" shape-rendering="crispEdges"/>
<polyline points="209.5,25.0 211.7,27.3 233.3,50.0 248.7,73.3 254.0,86.7 259.3,100.0 262.0,108.0 267.0,124.0 269.5,140.0 270.0,153.3 267.3,186.7 264.3,197.0 257.0,230.3 246.7,257.0 238.3,288.2 223.3,313.7 206.7,333.7 196.7,357.0 183.3,377.0 178.3,385.0 160.0,415.0 140.0,445.0 116.7,471.7 86.7,491.7 55.0,501.0 39.0,500.0 36.0,500.0" fill="none" stroke="#fff" stroke-width="1" stroke-linejoin="round" shape-rendering="crispEdges"/>
<polyline points="36.0,215.0 39.0,216.3 80.0,233.7 130.0,253.7 170.0,268.7 206.7,283.0 238.3,288.2 247.0,293.7 280.3,303.7 313.7,317.0 347.0,333.7 373.7,348.7 390.3,363.7 403.7,378.7 413.7,385.0 427.0,398.3 442.0,421.7 453.7,451.7 460.3,478.3 463.0,508.3 458.7,531.7 453.7,553.0" fill="none" stroke="#fff" stroke-width="1" stroke-linejoin="round" shape-rendering="crispEdges"/>
<polyline points="267.0,25.0 268.7,27.3 283.7,50.0 297.0,76.7 303.7,100.0 308.7,130.0 310.3,160.0 309.7,197.0 310.3,230.3 313.7,253.7 333.7,273.7 360.3,293.7 387.0,310.3 413.7,333.7 437.0,360.3 452.5,378.0 459.5,385.0 466.3,396.0 473.7,410.0 481.0,430.0 488.0,450.0 492.5,469.0 496.3,494.0 497.5,519.0 497.5,553.0" fill="none" stroke="#fff" stroke-width="1" stroke-linejoin="round" shape-rendering="crispEdges"/>
<polyline points="36.0,306.3 39.0,306.3 55.0,307.0 90.0,323.0 101.7,359.7 90.0,390.0 85.0,397.7 55.0,416.7 39.0,417.3 36.0,417.3" fill="none" stroke="#fff" stroke-width="1" stroke-linejoin="round" shape-rendering="crispEdges"/>
<polyline points="36.0,258.0 39.0,258.7 63.3,263.7 88.3,273.7 118.3,287.7 130.0,298.7 153.3,323.7 153.3,357.0 143.3,383.7 130.0,405.0 113.3,428.3 86.7,448.3 55.0,463.3 39.0,463.3 36.0,463.3" fill="none" stroke="#fff" stroke-width="1" stroke-linejoin="round" shape-rendering="crispEdges"/>
<polyline points="36.0,540.0 39.0,540.7 53.3,543.3 85.0,535.0 120.0,511.7 146.7,481.7 173.3,441.7 196.7,406.7 210.0,393.7 220.0,382.0 236.7,365.3 267.3,351.0 290.3,350.3 313.7,353.7 333.7,360.3 353.7,372.0 373.7,385.0 393.7,398.3 413.7,421.7 428.7,451.7 435.3,478.3 435.3,501.7 427.0,528.3 412.0,553.0" fill="none" stroke="#fff" stroke-width="1" stroke-linejoin="round" shape-rendering="crispEdges"/>
<polyline points="152.7,553.0 154.0,533.3 163.3,508.3 176.7,485.0 196.7,451.7 216.7,425.0 238.3,403.3 257.0,393.7 270.3,387.7 297.0,383.0 320.3,387.7 347.0,400.0 377.0,421.7 393.7,441.7 403.0,465.0 404.3,495.0 393.7,525.0 375.3,553.0" fill="none" stroke="#fff" stroke-width="1" stroke-linejoin="round" shape-rendering="crispEdges"/>
<polyline points="228.0,553.0 206.7,533.3 210.0,498.3 223.3,468.3 243.3,441.7 263.3,426.7 270.3,423.3 299.3,417.3 327.0,425.0 350.3,441.7 365.3,458.3 373.0,498.3 360.3,525.0 334.0,553.0" fill="none" stroke="#fff" stroke-width="1" stroke-linejoin="round" shape-rendering="crispEdges"/>
<polyline points="299.3,463.3 326.0,499.0 299.3,527.3 270.3,522.7 259.7,500.0 269.7,480.0 299.3,463.3" fill="none" stroke="#fff" stroke-width="1" stroke-linejoin="round" shape-rendering="crispEdges"/>
<polyline points="453.7,140.0 422.0,106.0 403.7,133.3 395.3,153.3 393.5,183.0 400.0,191.0 422.4,215.3 453.5,229.6 464.0,219.0 468.4,202.2" fill="none" stroke="#fff" stroke-width="1" stroke-linejoin="round" shape-rendering="crispEdges"/>
<path d="M54.4 44.5 L56.9 36.4 M85.0 44.5 L89.3 41.6 M115.8 44.5 L122.2 47.9 M146.4 44.5 L154.1 53.5 M177.2 44.5 L185.5 57.0 M207.8 44.5 L216.2 58.5 M238.5 44.5 L245.0 60.1 M269.2 44.5 L273.8 61.4 M299.9 44.5 L302.5 56.4 M330.7 44.5 L331.3 48.9 M361.4 44.5 L359.4 48.4 M392.1 44.5 L389.4 47.7 M422.8 44.5 L419.1 42.7 M54.4 79.4 L56.4 70.0 M85.0 79.4 L87.5 74.5 M115.8 79.4 L118.2 80.3 M146.4 79.4 L152.3 86.5 M177.2 79.4 L183.1 90.1 M207.8 79.4 L213.8 93.4 M238.5 79.4 L242.6 96.4 M269.2 79.4 L272.6 98.9 M299.9 79.4 L301.4 95.1 M330.7 79.4 L330.2 87.6 M361.4 79.4 L358.1 85.1 M392.1 79.4 L388.3 83.5 M422.8 79.4 L418.3 78.8 M453.4 79.4 L448.4 75.3 M54.4 114.4 L51.8 104.5 M85.0 114.4 L82.3 108.0 M115.8 114.4 L113.7 113.1 M146.4 114.4 L145.8 118.8 M177.2 114.4 L177.6 124.3 M207.8 114.4 L209.0 128.8 M238.5 114.4 L239.5 131.3 M269.2 114.4 L269.7 135.0 M299.9 114.4 L299.5 133.8 M330.7 114.4 L329.0 125.0 M361.4 114.4 L358.9 120.9 M392.1 114.4 L389.0 117.7 M422.8 114.4 L418.3 115.3 M453.4 114.4 L449.2 110.3 M54.4 149.4 L45.8 140.3 M85.0 149.4 L75.8 141.8 M115.8 149.4 L106.6 145.6 M146.4 149.4 L139.0 151.0 M177.2 149.4 L170.5 157.1 M207.8 149.4 L204.3 161.3 M238.5 149.4 L235.5 165.0 M269.2 149.4 L266.6 168.8 M299.9 149.4 L297.8 169.3 M330.7 149.4 L328.6 161.3 M361.4 149.4 L358.9 156.3 M392.1 149.4 L388.9 152.9 M422.8 149.4 L420.4 150.6 M453.4 149.4 L450.6 146.6 M54.4 184.4 L39.7 176.9 M85.0 184.4 L69.1 176.9 M115.8 184.4 L99.1 179.3 M146.4 184.4 L130.8 184.2 M177.2 184.4 L164.0 188.2 M207.8 184.4 L198.3 193.6 M238.5 184.4 L230.7 197.8 M269.2 184.4 L265.4 200.3 M299.9 184.4 L297.0 204.0 M330.7 184.4 L327.8 197.8 M361.4 184.4 L359.8 190.3 M392.1 184.4 L390.6 187.8 M422.8 184.4 L422.9 184.2 M453.4 184.4 L451.9 183.2 M54.4 219.3 L39.7 215.3 M85.0 219.3 L64.1 213.0 M115.8 219.3 L95.1 213.5 M146.4 219.3 L125.8 216.7 M177.2 219.3 L160.7 220.0 M207.8 219.3 L194.2 224.8 M238.5 219.3 L229.4 229.6 M269.2 219.3 L264.2 234.0 M299.9 219.3 L298.3 235.9 M330.7 219.3 L330.7 232.7 M361.4 219.3 L361.4 223.9 M392.1 219.3 L392.2 221.9 M422.8 219.3 L423.7 221.7 M453.4 219.3 L451.5 219.6 M484.2 219.3 L481.3 216.1 M54.4 254.3 L39.7 252.2 M85.0 254.3 L63.4 249.2 M115.8 254.3 L94.1 247.8 M146.4 254.3 L125.8 249.0 M177.2 254.3 L160.0 251.7 M207.8 254.3 L195.2 255.3 M238.5 254.3 L230.8 260.4 M269.2 254.3 L267.8 263.9 M299.9 254.3 L302.5 265.2 M330.7 254.3 L336.1 266.5 M361.4 254.3 L365.7 260.3 M392.1 254.3 L394.8 256.6 M422.8 254.3 L423.5 255.8 M453.4 254.3 L454.4 256.7 M484.2 254.3 L483.1 253.2 M514.9 254.3 L512.2 251.3 M54.4 289.3 L39.7 287.8 M85.0 289.3 L65.9 284.2 M115.8 289.3 L97.1 281.8 M146.4 289.3 L129.5 281.8 M177.2 289.3 L164.0 282.8 M207.8 289.3 L199.7 285.5 M238.5 289.3 L237.9 290.3 M269.2 289.3 L274.8 294.1 M299.9 289.3 L309.2 296.6 M330.7 289.3 L341.4 299.1 M361.4 289.3 L371.1 299.0 M392.1 289.3 L398.0 293.0 M422.8 289.3 L427.0 292.6 M453.4 289.3 L455.9 293.7 M484.2 289.3 L485.3 291.3 M514.9 289.3 L511.8 287.1 M54.4 324.2 L42.7 323.6 M85.0 324.2 L73.4 318.5 M115.8 324.2 L104.5 314.9 M146.4 324.2 L136.9 313.7 M177.2 324.2 L171.7 313.8 M207.8 324.2 L207.8 315.6 M238.5 324.2 L244.8 319.4 M269.2 324.2 L281.4 324.4 M299.9 324.2 L315.4 329.3 M330.7 324.2 L347.1 334.6 M361.4 324.2 L376.6 338.5 M392.1 324.2 L404.1 334.5 M422.8 324.2 L428.5 330.3 M453.4 324.2 L456.7 330.2 M484.2 324.2 L484.6 329.3 M514.9 324.2 L514.3 326.4 M54.4 359.2 L50.9 357.3 M85.0 359.2 L81.3 352.0 M115.8 359.2 L112.4 347.6 M146.4 359.2 L146.0 345.1 M177.2 359.2 L180.0 343.8 M207.8 359.2 L215.1 345.5 M238.5 359.2 L251.1 350.4 M269.2 359.2 L285.9 356.6 M299.9 359.2 L318.4 362.3 M330.7 359.2 L349.6 369.1 M361.4 359.2 L379.1 376.0 M392.1 359.2 L407.3 375.3 M422.8 359.2 L433.1 372.7 M453.4 359.2 L458.2 368.9 M484.2 359.2 L484.6 367.6 M514.9 359.2 L514.2 363.8 M545.5 359.2 L542.1 357.3 M54.4 394.2 L58.5 391.8 M85.0 394.2 L90.0 385.0 M115.8 394.2 L120.7 380.0 M146.4 394.2 L153.2 377.0 M177.2 394.2 L186.1 375.5 M207.8 394.2 L220.0 378.7 M238.5 394.2 L254.1 381.1 M269.2 394.2 L287.2 389.1 M299.9 394.2 L318.4 396.8 M330.7 394.2 L347.8 404.6 M361.4 394.2 L378.1 411.0 M392.1 394.2 L407.4 416.4 M422.8 394.2 L433.7 416.3 M453.4 394.2 L459.9 410.1 M484.2 394.2 L485.1 405.1 M514.9 394.2 L514.7 401.3 M545.5 394.2 L543.3 396.5 M576.2 394.2 L572.5 391.1 M54.4 429.1 L66.0 425.1 M85.0 429.1 L96.1 418.6 M115.8 429.1 L127.4 412.9 M146.4 429.1 L158.6 410.0 M177.2 429.1 L189.3 408.7 M207.8 429.1 L221.2 411.1 M238.5 429.1 L253.6 415.4 M269.2 429.1 L284.7 423.4 M299.9 429.1 L313.9 431.1 M330.7 429.1 L342.9 439.0 M361.4 429.1 L373.0 445.7 M392.1 429.1 L401.3 451.8 M422.8 429.1 L430.1 451.3 M453.4 429.1 L458.8 452.6 M484.2 429.1 L486.3 445.1 M514.9 429.1 L514.7 438.8 M545.5 429.1 L543.2 432.7 M576.2 429.1 L573.9 425.5 M54.4 464.1 L69.8 459.8 M85.0 464.1 L99.3 454.0 M115.8 464.1 L129.1 448.4 M146.4 464.1 L159.3 445.9 M177.2 464.1 L188.5 445.9 M207.8 464.1 L218.3 445.9 M238.5 464.1 L248.7 450.1 M269.2 464.1 L277.3 457.5 M299.9 464.1 L305.9 466.4 M330.7 464.1 L334.9 474.1 M361.4 464.1 L364.0 480.5 M392.1 464.1 L394.0 485.5 M422.8 464.1 L423.4 489.7 M453.4 464.1 L454.4 489.7 M484.2 464.1 L485.1 484.7 M514.9 464.1 L514.2 476.0 M545.5 464.1 L544.2 468.5 M576.2 464.1 L574.4 460.9 M54.4 499.1 L69.8 496.2 M85.0 499.1 L99.2 489.9 M115.8 499.1 L128.1 485.0 M146.4 499.1 L156.2 482.1 M177.2 499.1 L184.9 481.6 M207.8 499.1 L211.9 482.2 M238.5 499.1 L240.2 486.0 M269.2 499.1 L268.6 492.7 M299.9 499.1 L296.9 501.7 M330.7 499.1 L324.9 509.1 M361.4 499.1 L353.1 514.8 M392.1 499.1 L383.1 519.7 M422.8 499.1 L414.8 521.0 M453.4 499.1 L448.6 522.2 M484.2 499.1 L482.2 521.0 M514.9 499.1 L514.7 512.2 M545.5 499.1 L544.2 503.5 M576.2 499.1 L575.1 497.1 M54.4 534.1 L67.3 532.4 M85.0 534.1 L96.5 528.1 M115.8 534.1 L123.6 523.8 M146.4 534.1 L150.0 521.6 M177.2 534.1 L177.0 521.0 M207.8 534.1 L203.8 520.9 M238.5 534.1 L229.4 523.3 M269.2 534.1 L257.1 528.6 M299.9 534.1 L285.3 536.9 M330.7 534.1 L313.2 543.8 M361.4 534.1 L342.1 549.9 M392.1 534.1 L374.5 550.6 M422.8 534.1 L410.6 549.8 M453.4 534.1 L443.1 550.6 M484.2 534.1 L480.3 550.5 M514.9 534.1 L512.9 548.5 M545.5 534.1 L544.2 539.7 M576.2 534.1 L575.1 532.5" stroke="#000" stroke-width="1" fill="none" shape-rendering="crispEdges"/>
<path d="M57.1 35.8 L57.2 39.4 L54.8 38.7 Z M89.8 41.3 L88.4 43.3 L87.4 41.8 Z M122.8 48.2 L119.5 47.8 L120.6 45.7 Z M154.4 54.0 L151.3 52.2 L153.2 50.6 Z M185.8 57.5 L182.9 55.3 L185.0 54.0 Z M216.5 59.0 L213.7 56.7 L215.9 55.4 Z M245.2 60.7 L242.8 58.0 L245.1 57.1 Z M273.9 62.0 L271.9 59.0 L274.3 58.4 Z M302.6 57.0 L300.7 53.9 L303.2 53.4 Z M331.4 49.5 L330.3 47.6 L331.8 47.4 Z M359.2 49.0 L359.3 46.8 L360.7 47.5 Z M389.1 48.2 L389.7 46.2 L390.8 47.2 Z M418.6 42.5 L420.5 42.6 L419.9 43.9 Z M56.6 69.4 L57.0 73.0 L54.6 72.5 Z M87.8 73.9 L87.5 76.5 L85.9 75.7 Z M118.8 80.4 L117.3 80.5 L117.6 79.5 Z M152.6 86.9 L149.5 85.1 L151.4 83.5 Z M183.3 90.6 L180.6 88.3 L182.8 87.1 Z M214.0 93.9 L211.6 91.3 L213.9 90.3 Z M242.7 96.9 L240.7 93.9 L243.2 93.4 Z M272.8 99.4 L270.9 96.3 L273.4 95.9 Z M301.4 95.6 L299.9 92.4 L302.4 92.1 Z M330.2 88.1 L329.1 84.7 L331.6 84.9 Z M357.9 85.6 L358.3 82.7 L360.1 83.8 Z M387.9 83.9 L388.8 81.6 L390.2 82.8 Z M417.8 78.7 L419.9 78.3 L419.6 79.8 Z M447.9 74.9 L450.7 75.9 L449.4 77.5 Z M51.6 103.9 L53.7 106.9 L51.3 107.5 Z M82.0 107.4 L84.2 109.7 L82.2 110.6 Z M113.2 112.7 L114.6 113.0 L114.0 113.8 Z M145.8 119.4 L145.3 117.3 L146.8 117.5 Z M177.7 124.9 L176.2 121.6 L178.7 121.5 Z M209.0 129.4 L207.5 126.1 L210.0 125.9 Z M239.5 131.9 L238.1 128.6 L240.6 128.5 Z M269.8 135.6 L268.4 132.3 L270.9 132.2 Z M299.4 134.4 L298.3 131.0 L300.8 131.1 Z M329.0 125.6 L328.2 122.1 L330.7 122.4 Z M358.7 121.4 L358.7 118.3 L360.7 119.1 Z M388.6 118.1 L389.4 116.1 L390.5 117.2 Z M417.8 115.4 L419.6 114.3 L419.9 115.8 Z M448.8 109.9 L451.3 111.0 L449.9 112.4 Z M45.4 139.9 L48.6 141.5 L46.8 143.2 Z M75.3 141.4 L78.8 142.6 L77.2 144.5 Z M106.0 145.4 L109.7 145.5 L108.7 147.8 Z M138.4 151.1 L141.3 149.3 L141.8 151.6 Z M170.2 157.6 L171.4 154.2 L173.3 155.8 Z M204.2 161.9 L203.9 158.3 L206.3 159.0 Z M235.3 165.6 L234.8 162.0 L237.2 162.5 Z M266.6 169.4 L265.8 165.9 L268.2 166.2 Z M297.8 169.9 L296.9 166.4 L299.4 166.6 Z M328.5 161.9 L327.8 158.3 L330.3 158.8 Z M358.7 156.9 L358.6 153.6 L360.8 154.4 Z M388.6 153.4 L389.3 151.3 L390.5 152.3 Z M419.9 150.9 L420.8 149.8 L421.3 150.7 Z M450.1 146.2 L452.0 147.0 L451.0 148.0 Z M39.2 176.7 L42.7 177.1 L41.6 179.3 Z M68.5 176.7 L72.2 177.0 L71.1 179.2 Z M98.5 179.2 L102.2 178.9 L101.4 181.3 Z M130.2 184.2 L133.7 183.0 L133.6 185.5 Z M163.5 188.4 L166.4 186.2 L167.1 188.6 Z M197.8 194.1 L199.4 190.8 L201.2 192.6 Z M230.3 198.4 L231.0 194.8 L233.1 196.1 Z M265.2 200.9 L264.8 197.3 L267.3 197.9 Z M296.9 204.6 L296.2 201.0 L298.7 201.4 Z M327.7 198.4 L327.1 194.8 L329.6 195.3 Z M359.7 190.9 L359.3 188.1 L361.3 188.6 Z M390.4 188.4 L390.4 186.5 L391.7 187.0 Z M422.4 184.7 L422.6 184.3 L422.8 184.5 Z M451.4 182.9 L452.6 183.2 L452.1 183.9 Z M39.2 215.1 L42.8 214.8 L42.1 217.2 Z M63.5 212.8 L67.2 212.6 L66.4 215.0 Z M94.5 213.3 L98.2 213.1 L97.5 215.5 Z M125.2 216.6 L128.8 215.8 L128.5 218.3 Z M160.2 220.0 L163.5 218.6 L163.6 221.1 Z M193.7 225.0 L196.3 222.6 L197.3 224.9 Z M229.0 230.0 L230.4 226.7 L232.2 228.3 Z M264.1 234.5 L264.0 230.9 L266.3 231.7 Z M298.2 236.5 L297.3 233.0 L299.8 233.3 Z M330.7 233.3 L329.4 229.9 L331.9 229.9 Z M361.4 224.5 L360.6 222.5 L362.1 222.5 Z M392.2 222.5 L391.7 221.2 L392.7 221.1 Z M423.9 222.2 L423.0 221.2 L423.9 220.8 Z M450.9 219.6 L452.0 219.1 L452.1 219.9 Z M481.0 215.6 L482.8 216.6 L481.7 217.6 Z M39.2 252.1 L42.7 251.3 L42.3 253.8 Z M62.8 249.1 L66.4 248.7 L65.9 251.1 Z M93.5 247.6 L97.2 247.4 L96.4 249.8 Z M125.2 248.8 L128.9 248.4 L128.2 250.9 Z M159.5 251.6 L163.0 250.9 L162.6 253.3 Z M194.7 255.3 L197.9 253.8 L198.1 256.3 Z M230.3 260.8 L232.2 257.7 L233.8 259.7 Z M267.8 264.5 L267.0 261.0 L269.5 261.3 Z M302.6 265.8 L300.7 262.8 L303.1 262.2 Z M336.4 267.0 L333.8 264.4 L336.1 263.4 Z M366.1 260.8 L363.3 259.0 L365.2 257.6 Z M395.2 257.0 L393.5 256.4 L394.4 255.4 Z M423.8 256.3 L423.0 255.6 L423.6 255.2 Z M454.6 257.3 L453.7 256.2 L454.6 255.8 Z M482.7 252.8 L483.6 253.2 L483.1 253.7 Z M511.9 250.8 L513.6 251.8 L512.5 252.7 Z M39.2 287.8 L42.7 286.9 L42.4 289.3 Z M65.3 284.1 L69.0 283.7 L68.3 286.1 Z M96.5 281.6 L100.2 281.7 L99.2 284.0 Z M128.9 281.6 L132.6 281.8 L131.6 284.1 Z M163.5 282.6 L167.1 282.9 L166.0 285.2 Z M199.2 285.3 L202.8 285.6 L201.7 287.8 Z M237.5 290.8 L237.8 289.9 L238.3 290.2 Z M275.2 294.5 L272.2 293.3 L273.7 291.6 Z M309.6 297.0 L306.2 295.8 L307.8 293.9 Z M341.9 299.5 L338.5 298.1 L340.2 296.3 Z M371.6 299.5 L368.3 297.9 L370.0 296.2 Z M398.6 293.3 L395.5 292.7 L396.6 290.8 Z M427.4 293.0 L425.0 292.2 L426.2 290.8 Z M456.1 294.3 L454.3 292.7 L455.8 291.9 Z M485.7 291.8 L484.6 290.9 L485.4 290.5 Z M511.4 286.8 L513.2 287.2 L512.4 288.3 Z M42.2 323.5 L45.6 322.5 L45.5 325.0 Z M72.8 318.2 L76.5 318.6 L75.3 320.9 Z M104.0 314.5 L107.5 315.7 L105.9 317.7 Z M136.4 313.2 L139.7 314.9 L137.8 316.6 Z M171.5 313.2 L174.1 315.7 L171.9 316.8 Z M207.8 315.0 L209.1 318.4 L206.6 318.4 Z M245.2 319.0 L243.4 322.0 L241.9 320.1 Z M281.9 324.4 L278.5 325.6 L278.6 323.1 Z M315.9 329.4 L312.3 329.6 L313.1 327.2 Z M347.7 334.9 L344.1 334.2 L345.4 332.1 Z M377.1 338.9 L373.7 337.5 L375.4 335.7 Z M404.6 334.9 L401.2 333.7 L402.8 331.8 Z M428.9 330.7 L425.7 329.1 L427.5 327.4 Z M456.9 330.7 L454.6 328.7 L456.6 327.7 Z M484.7 329.9 L483.6 327.8 L485.3 327.6 Z M514.1 326.9 L514.0 325.7 L514.9 325.9 Z M50.4 357.0 L52.3 357.3 L51.6 358.5 Z M81.0 351.5 L83.7 353.9 L81.5 355.0 Z M112.2 347.0 L114.4 349.9 L112.0 350.6 Z M145.9 344.5 L147.3 347.9 L144.8 348.0 Z M180.2 343.2 L180.8 346.8 L178.3 346.3 Z M215.3 345.0 L214.9 348.6 L212.7 347.4 Z M251.5 350.0 L249.5 353.0 L248.1 351.0 Z M286.4 356.5 L283.3 358.3 L282.9 355.8 Z M318.9 362.4 L315.4 363.1 L315.8 360.6 Z M350.2 369.4 L346.6 368.9 L347.7 366.7 Z M379.6 376.4 L376.2 375.0 L377.9 373.2 Z M407.8 375.7 L404.5 374.1 L406.3 372.4 Z M433.4 373.2 L430.4 371.3 L432.4 369.7 Z M458.4 369.4 L455.8 366.9 L458.1 365.8 Z M484.7 368.2 L483.2 364.9 L485.7 364.7 Z M514.1 364.4 L513.6 362.2 L515.2 362.4 Z M541.5 357.0 L543.5 357.3 L542.8 358.5 Z M59.1 391.5 L57.6 393.3 L56.8 391.8 Z M90.2 384.5 L89.7 388.1 L87.5 386.9 Z M121.0 379.5 L121.0 383.1 L118.6 382.3 Z M153.4 376.5 L153.4 380.1 L151.0 379.2 Z M186.3 375.0 L186.0 378.6 L183.8 377.5 Z M220.3 378.2 L219.2 381.6 L217.3 380.1 Z M254.5 380.7 L252.8 383.8 L251.1 381.9 Z M287.8 389.0 L284.8 391.1 L284.1 388.7 Z M318.9 396.9 L315.4 397.6 L315.8 395.2 Z M348.4 404.9 L344.8 404.2 L346.1 402.1 Z M378.6 411.4 L375.3 409.9 L377.0 408.1 Z M407.8 416.9 L404.8 414.8 L406.8 413.4 Z M433.9 416.9 L431.3 414.4 L433.6 413.3 Z M460.1 410.7 L457.7 408.0 L460.0 407.1 Z M485.2 405.7 L483.6 402.4 L486.1 402.2 Z M514.6 401.9 L513.6 398.9 L515.9 398.9 Z M542.8 396.9 L543.5 395.3 L544.4 396.2 Z M572.0 390.7 L574.2 391.4 L573.2 392.7 Z M66.5 424.9 L63.7 427.2 L62.9 424.9 Z M96.5 418.1 L95.0 421.4 L93.2 419.6 Z M127.8 412.4 L126.8 415.9 L124.8 414.5 Z M158.9 409.4 L158.2 413.0 L156.1 411.7 Z M189.7 408.1 L189.0 411.7 L186.8 410.4 Z M221.5 410.6 L220.5 414.1 L218.5 412.6 Z M254.0 414.9 L252.4 418.2 L250.7 416.3 Z M285.2 423.1 L282.5 425.5 L281.6 423.2 Z M314.4 431.1 L310.9 431.9 L311.3 429.4 Z M343.4 439.3 L339.9 438.2 L341.5 436.2 Z M373.4 446.1 L370.4 444.1 L372.4 442.7 Z M401.6 452.3 L399.1 449.7 L401.4 448.7 Z M430.2 451.8 L428.0 449.0 L430.4 448.2 Z M458.9 453.1 L457.0 450.1 L459.4 449.6 Z M486.4 445.6 L484.7 442.4 L487.1 442.1 Z M514.6 439.3 L513.5 435.9 L516.0 436.0 Z M542.8 433.1 L543.3 431.1 L544.5 432.0 Z M573.5 424.9 L575.3 426.2 L574.0 427.0 Z M70.3 459.6 L67.4 461.7 L66.7 459.3 Z M99.8 453.6 L97.7 456.6 L96.3 454.6 Z M129.4 447.9 L128.2 451.3 L126.3 449.7 Z M159.6 445.4 L158.7 448.9 L156.7 447.5 Z M188.8 445.4 L188.1 449.0 L186.0 447.6 Z M218.5 445.4 L217.9 449.0 L215.8 447.8 Z M249.0 449.6 L248.1 453.1 L246.0 451.6 Z M277.8 457.1 L275.9 460.2 L274.3 458.3 Z M306.4 466.6 L303.6 466.6 L304.3 464.7 Z M335.2 474.6 L332.7 472.0 L335.0 471.0 Z M364.1 481.1 L362.3 478.0 L364.8 477.6 Z M394.1 486.1 L392.5 482.8 L395.0 482.6 Z M423.4 490.3 L422.1 487.0 L424.6 486.9 Z M454.4 490.3 L453.1 487.0 L455.6 486.9 Z M485.2 485.3 L483.7 482.0 L486.2 481.9 Z M514.1 476.6 L513.1 473.2 L515.6 473.3 Z M544.0 469.1 L543.9 466.9 L545.4 467.4 Z M574.0 460.4 L575.5 461.6 L574.4 462.3 Z M70.3 496.1 L67.2 497.9 L66.8 495.5 Z M99.8 489.6 L97.6 492.5 L96.2 490.4 Z M128.4 484.6 L127.2 488.0 L125.3 486.3 Z M156.4 481.6 L155.8 485.2 L153.7 483.9 Z M185.2 481.1 L184.9 484.7 L182.6 483.7 Z M212.0 481.6 L212.5 485.2 L210.0 484.6 Z M240.2 485.4 L241.1 488.9 L238.6 488.6 Z M268.6 492.1 L269.9 494.7 L267.8 494.9 Z M296.4 502.1 L297.4 500.3 L298.3 501.4 Z M324.7 509.6 L325.3 506.0 L327.4 507.3 Z M352.9 515.3 L353.3 511.7 L355.5 512.9 Z M382.9 520.3 L383.1 516.7 L385.4 517.7 Z M414.6 521.6 L414.5 518.0 L416.9 518.8 Z M448.4 522.8 L447.9 519.2 L450.4 519.7 Z M482.2 521.6 L481.2 518.1 L483.7 518.3 Z M514.6 512.8 L513.4 509.4 L515.9 509.4 Z M544.0 504.1 L543.9 501.9 L545.4 502.3 Z M574.8 496.6 L575.8 497.4 L575.0 497.9 Z M67.8 532.4 L64.6 534.0 L64.3 531.5 Z M97.0 527.9 L94.6 530.5 L93.5 528.3 Z M124.0 523.4 L122.9 526.8 L120.9 525.3 Z M150.1 521.1 L150.4 524.7 L148.0 524.0 Z M177.0 520.4 L178.2 523.7 L175.7 523.8 Z M203.7 520.4 L205.8 523.2 L203.5 524.0 Z M229.0 522.9 L232.2 524.6 L230.3 526.3 Z M256.6 528.4 L260.2 528.6 L259.1 530.9 Z M284.8 537.1 L287.8 535.2 L288.3 537.6 Z M312.7 544.1 L315.0 541.3 L316.2 543.5 Z M341.7 550.3 L343.5 547.1 L345.1 549.1 Z M374.1 551.1 L375.7 547.8 L377.4 549.6 Z M410.2 550.3 L411.3 546.8 L413.3 548.3 Z M442.8 551.1 L443.5 547.5 L445.6 548.8 Z M480.2 551.1 L479.7 547.5 L482.1 548.0 Z M512.9 549.1 L512.1 545.5 L514.5 545.9 Z M544.0 540.3 L543.7 537.6 L545.6 538.1 Z M574.8 532.1 L575.7 532.7 L575.1 533.2 Z" fill="#000" stroke="#000" stroke-width="0.4" shape-rendering="crispEdges"/>
</g>
<rect x="638" y="93" width="8" height="160.5" fill="url(#cb)"/>
<path d="M636.5 253 h1.5 M646 253 h1.5" stroke="#222" stroke-width="1"/>
<text x="650.6" y="256.7" font-size="10.2" font-weight="bold" fill="#222" textLength="6.6" lengthAdjust="spacingAndGlyphs">0</text>
<path d="M636.5 233 h1.5 M646 233 h1.5" stroke="#222" stroke-width="1"/>
<text x="650.6" y="236.7" font-size="10.2" font-weight="bold" fill="#222" textLength="25" lengthAdjust="spacingAndGlyphs">0.25</text>
<path d="M636.5 213 h1.5 M646 213 h1.5" stroke="#222" stroke-width="1"/>
<text x="650.6" y="216.7" font-size="10.2" font-weight="bold" fill="#222" textLength="18.4" lengthAdjust="spacingAndGlyphs">0.5</text>
<path d="M636.5 193 h1.5 M646 193 h1.5" stroke="#222" stroke-width="1"/>
<text x="650.6" y="196.7" font-size="10.2" font-weight="bold" fill="#222" textLength="25" lengthAdjust="spacingAndGlyphs">0.75</text>
<path d="M636.5 173 h1.5 M646 173 h1.5" stroke="#222" stroke-width="1"/>
<text x="650.6" y="176.7" font-size="10.2" font-weight="bold" fill="#222" textLength="6.6" lengthAdjust="spacingAndGlyphs">1</text>
<path d="M636.5 153.5 h1.5 M646 153.5 h1.5" stroke="#222" stroke-width="1"/>
<text x="650.6" y="157.2" font-size="10.2" font-weight="bold" fill="#222" textLength="25" lengthAdjust="spacingAndGlyphs">1.25</text>
<path d="M636.5 133.8 h1.5 M646 133.8 h1.5" stroke="#222" stroke-width="1"/>
<text x="650.6" y="137.5" font-size="10.2" font-weight="bold" fill="#222" textLength="18.4" lengthAdjust="spacingAndGlyphs">1.5</text>
<path d="M636.5 114 h1.5 M646 114 h1.5" stroke="#222" stroke-width="1"/>
<text x="650.6" y="117.7" font-size="10.2" font-weight="bold" fill="#222" textLength="25" lengthAdjust="spacingAndGlyphs">1.75</text>
<path d="M636.5 94 h1.5 M646 94 h1.5" stroke="#222" stroke-width="1"/>
<text x="650.6" y="97.7" font-size="10.2" font-weight="bold" fill="#222" textLength="6.6" lengthAdjust="spacingAndGlyphs">2</text>
<text transform="translate(691.2,293.8) rotate(-90)" font-size="12.2" font-weight="bold" fill="#222" textLength="240.6" lengthAdjust="spacingAndGlyphs">Age (days) of filled SST (wrt latest)</text>
<path d="M69.5 27 V21 M69.5 551.5 V557.5 M146.5 27 V21 M146.5 551.5 V557.5 M223.5 27 V21 M223.5 551.5 V557.5 M299.5 27 V21 M299.5 551.5 V557.5 M376.5 27 V21 M376.5 551.5 V557.5 M453.5 27 V21 M453.5 551.5 V557.5 M530.5 27 V21 M530.5 551.5 V557.5 M606.5 27 V21 M606.5 551.5 V557.5 M683.5 27 V21 M683.5 551.5 V557.5 M39 97.5 H33 M699 97.5 H705 M39 184.5 H33 M699 184.5 H705 M39 272.5 H33 M699 272.5 H705 M39 359.5 H33 M699 359.5 H705 M39 446.5 H33 M699 446.5 H705 M39 534.5 H33 M699 534.5 H705" stroke="#1a1a1a" stroke-width="1" fill="none"/>
<text x="50.6" y="576.8" font-size="13.6" fill="#262626" textLength="39.2" lengthAdjust="spacingAndGlyphs">111.5</text>
<text x="133.6" y="576.8" font-size="13.6" fill="#262626" textLength="25.2" lengthAdjust="spacingAndGlyphs">112</text>
<text x="204.6" y="576.8" font-size="13.6" fill="#262626" textLength="39.2" lengthAdjust="spacingAndGlyphs">112.5</text>
<text x="286.6" y="576.8" font-size="13.6" fill="#262626" textLength="25.2" lengthAdjust="spacingAndGlyphs">113</text>
<text x="357.6" y="576.8" font-size="13.6" fill="#262626" textLength="39.2" lengthAdjust="spacingAndGlyphs">113.5</text>
<text x="440.6" y="576.8" font-size="13.6" fill="#262626" textLength="25.2" lengthAdjust="spacingAndGlyphs">114</text>
<text x="511.6" y="576.8" font-size="13.6" fill="#262626" textLength="39.2" lengthAdjust="spacingAndGlyphs">114.5</text>
<text x="593.6" y="576.8" font-size="13.6" fill="#262626" textLength="25.2" lengthAdjust="spacingAndGlyphs">115</text>
<text x="664.6" y="576.8" font-size="13.6" fill="#262626" textLength="39.2" lengthAdjust="spacingAndGlyphs">115.5</text>
<text x="-8.0" y="102.3" font-size="13.6" fill="#262626" textLength="34.2" lengthAdjust="spacingAndGlyphs">-27.5</text>
<text x="4.9" y="189.3" font-size="13.6" fill="#262626" textLength="21.3" lengthAdjust="spacingAndGlyphs">-28</text>
<text x="-8.0" y="277.3" font-size="13.6" fill="#262626" textLength="34.2" lengthAdjust="spacingAndGlyphs">-28.5</text>
<text x="4.9" y="364.3" font-size="13.6" fill="#262626" textLength="21.3" lengthAdjust="spacingAndGlyphs">-29</text>
<text x="-8.0" y="451.3" font-size="13.6" fill="#262626" textLength="34.2" lengthAdjust="spacingAndGlyphs">-29.5</text>
<text x="4.9" y="539.3" font-size="13.6" fill="#262626" textLength="21.3" lengthAdjust="spacingAndGlyphs">-30</text>
<text x="469.3" y="49" font-size="13.6" fill="#000" textLength="114.8" lengthAdjust="spacingAndGlyphs">16-Jun-2024 04Z</text>
<text x="483.9" y="93.6" font-size="13.6" fill="#000" textLength="76.8" lengthAdjust="spacingAndGlyphs">NRT00 GSL</text>
<text x="484" y="110.9" font-size="13.6" fill="#000" textLength="97.2" lengthAdjust="spacingAndGlyphs">16-Jun 06:00Z</text>
<text x="484.9" y="128" font-size="13.6" fill="#000" textLength="104.8" lengthAdjust="spacingAndGlyphs">0.5m/s (1kt 6h)</text>
<path d="M494 138.4 H510" stroke="#000" stroke-width="1"/><path d="M512.5 138.4 l-5 -2 v4 z" fill="#000"/>
<circle cx="621.8" cy="324.9" r="2.6" fill="none" stroke="#ff00ff" stroke-width="1.4"/>
<text x="638.4" y="329" font-size="13.6" font-weight="bold" fill="#000" textLength="35.9" lengthAdjust="spacingAndGlyphs">Argo</text>
<circle cx="594.2" cy="403.4" r="4.6" fill="#000"/>
<text x="598.5" y="398.7" font-size="13.6" font-weight="bold" fill="#000" textLength="66.2" lengthAdjust="spacingAndGlyphs">Dongara</text>
<text x="653.5" y="512.6" font-size="13.6" fill="#000" textLength="38" lengthAdjust="spacingAndGlyphs">200m</text>
<text x="653.4" y="529.8" font-size="13.6" fill="#000" textLength="48.8" lengthAdjust="spacingAndGlyphs">1000m</text>
<path d="M652.2 536.4 H684.8" stroke="#aab0bc" stroke-width="1"/>
<text transform="translate(731.2,550.3) rotate(-90)" font-size="12.2" fill="#000" textLength="211.8" lengthAdjust="spacingAndGlyphs">© IMOS 19-Jun-2024 14:55 Hobart</text>
</svg></body></html>
